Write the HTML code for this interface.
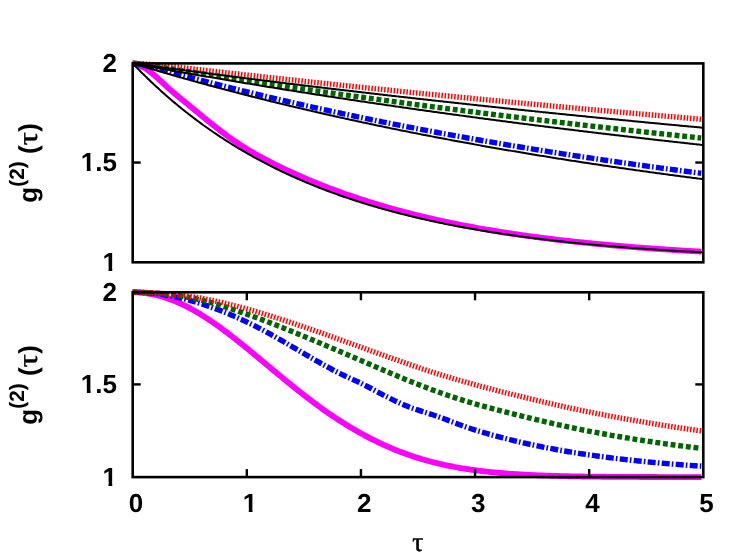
<!DOCTYPE html>
<html><head><meta charset="utf-8"><title>g2</title>
<style>
html,body{margin:0;padding:0;background:#fff;}
svg{display:block;will-change:transform;}
text{font-family:"Liberation Sans",sans-serif;font-weight:bold;font-size:26px;fill:#000;text-rendering:geometricPrecision;}
</style></head>
<body>
<svg width="747" height="555" viewBox="0 0 747 555">
<rect x="0" y="0" width="747" height="555" fill="#fff"/>
<defs><clipPath id="ct"><rect x="131.40" y="58.40" width="573.20" height="208.90"/></clipPath><clipPath id="cb"><rect x="131.40" y="287.30" width="573.20" height="194.80"/></clipPath></defs>
<g clip-path="url(#ct)">
<path d="M132.70,63.40 L134.12,63.70 L135.55,64.09 L136.97,64.55 L138.40,65.09 L139.82,65.69 L141.25,66.33 L142.67,67.01 L144.10,67.72 L145.52,68.52 L146.95,69.45 L148.37,70.48 L149.80,71.60 L151.22,72.76 L152.65,73.93 L154.07,75.10 L155.50,76.29 L156.92,77.53 L158.35,78.81 L159.77,80.12 L161.20,81.45 L162.62,82.79 L164.05,84.14 L165.47,85.48 L166.90,86.80 L168.32,88.11 L169.75,89.38 L171.17,90.63 L172.59,91.85 L174.02,93.06 L175.44,94.26 L176.87,95.44 L178.29,96.62 L179.72,97.79 L181.14,98.95 L182.57,100.12 L183.99,101.28 L185.42,102.44 L186.84,103.60 L188.27,104.77 L189.69,105.94 L191.12,107.12 L192.54,108.29 L193.97,109.47 L195.39,110.65 L196.82,111.83 L198.24,113.01 L199.67,114.18 L201.09,115.35 L202.52,116.52 L203.94,117.69 L205.37,118.85 L206.79,120.01 L208.22,121.16 L209.64,122.31 L211.06,123.45 L212.49,124.59 L213.91,125.72 L215.34,126.84 L216.76,127.95 L218.19,129.05 L219.61,130.15 L221.04,131.24 L222.46,132.31 L223.89,133.38 L225.31,134.44 L226.74,135.49 L228.16,136.52 L229.59,137.55 L231.01,138.57 L232.44,139.57 L233.86,140.56 L235.29,141.54 L236.71,142.51 L238.14,143.46 L239.56,144.41 L240.99,145.34 L242.41,146.25 L243.84,147.16 L245.26,148.05 L246.68,148.92 L248.11,149.79 L249.53,150.64 L250.96,151.48 L252.38,152.32 L253.81,153.14 L255.23,153.96 L256.66,154.76 L258.08,155.56 L259.51,156.35 L260.93,157.13 L262.36,157.90 L263.78,158.67 L265.21,159.43 L266.63,160.18 L268.06,160.92 L269.48,161.66 L270.91,162.39 L272.33,163.11 L273.76,163.82 L275.18,164.54 L276.61,165.24 L278.03,165.94 L279.46,166.63 L280.88,167.32 L282.31,168.00 L283.73,168.68 L285.15,169.35 L286.58,170.02 L288.00,170.68 L289.43,171.34 L290.85,171.99 L292.28,172.64 L293.70,173.29 L295.13,173.93 L296.55,174.57 L297.98,175.20 L299.40,175.84 L300.83,176.46 L302.25,177.09 L303.68,177.71 L305.10,178.32 L306.53,178.94 L307.95,179.55 L309.38,180.15 L310.80,180.75 L312.23,181.34 L313.65,181.93 L315.08,182.52 L316.50,183.10 L317.93,183.67 L319.35,184.25 L320.78,184.81 L322.20,185.38 L323.62,185.94 L325.05,186.50 L326.47,187.05 L327.90,187.60 L329.32,188.14 L330.75,188.68 L332.17,189.22 L333.60,189.75 L335.02,190.28 L336.45,190.80 L337.87,191.32 L339.30,191.84 L340.72,192.35 L342.15,192.86 L343.57,193.37 L345.00,193.87 L346.42,194.37 L347.85,194.87 L349.27,195.36 L350.70,195.85 L352.12,196.34 L353.55,196.82 L354.97,197.30 L356.40,197.78 L357.82,198.25 L359.25,198.72 L360.67,199.19 L362.09,199.65 L363.52,200.11 L364.94,200.57 L366.37,201.02 L367.79,201.47 L369.22,201.92 L370.64,202.37 L372.07,202.81 L373.49,203.25 L374.92,203.68 L376.34,204.11 L377.77,204.54 L379.19,204.97 L380.62,205.39 L382.04,205.81 L383.47,206.23 L384.89,206.65 L386.32,207.06 L387.74,207.46 L389.17,207.87 L390.59,208.27 L392.02,208.67 L393.44,209.07 L394.87,209.46 L396.29,209.85 L397.72,210.24 L399.14,210.63 L400.56,211.01 L401.99,211.39 L403.41,211.77 L404.84,212.14 L406.26,212.51 L407.69,212.88 L409.11,213.25 L410.54,213.61 L411.96,213.98 L413.39,214.33 L414.81,214.69 L416.24,215.04 L417.66,215.39 L419.09,215.74 L420.51,216.09 L421.94,216.43 L423.36,216.77 L424.79,217.11 L426.21,217.45 L427.64,217.78 L429.06,218.11 L430.49,218.44 L431.91,218.76 L433.34,219.09 L434.76,219.41 L436.18,219.73 L437.61,220.04 L439.03,220.36 L440.46,220.67 L441.88,220.98 L443.31,221.28 L444.73,221.59 L446.16,221.89 L447.58,222.19 L449.01,222.49 L450.43,222.78 L451.86,223.08 L453.28,223.37 L454.71,223.66 L456.13,223.94 L457.56,224.23 L458.98,224.51 L460.41,224.79 L461.83,225.07 L463.26,225.35 L464.68,225.62 L466.11,225.89 L467.53,226.16 L468.96,226.43 L470.38,226.70 L471.81,226.96 L473.23,227.22 L474.65,227.48 L476.08,227.74 L477.50,228.00 L478.93,228.25 L480.35,228.50 L481.78,228.75 L483.20,229.00 L484.63,229.25 L486.05,229.49 L487.48,229.74 L488.90,229.98 L490.33,230.22 L491.75,230.45 L493.18,230.69 L494.60,230.92 L496.03,231.16 L497.45,231.39 L498.88,231.62 L500.30,231.84 L501.73,232.07 L503.15,232.29 L504.58,232.52 L506.00,232.74 L507.43,232.96 L508.85,233.17 L510.28,233.39 L511.70,233.60 L513.12,233.82 L514.55,234.03 L515.97,234.24 L517.40,234.44 L518.82,234.65 L520.25,234.86 L521.67,235.06 L523.10,235.26 L524.52,235.46 L525.95,235.66 L527.37,235.86 L528.80,236.05 L530.22,236.25 L531.65,236.44 L533.07,236.63 L534.50,236.82 L535.92,237.01 L537.35,237.20 L538.77,237.38 L540.20,237.57 L541.62,237.75 L543.05,237.93 L544.47,238.11 L545.90,238.29 L547.32,238.47 L548.75,238.65 L550.17,238.82 L551.59,239.00 L553.02,239.17 L554.44,239.34 L555.87,239.51 L557.29,239.68 L558.72,239.85 L560.14,240.01 L561.57,240.18 L562.99,240.34 L564.42,240.51 L565.84,240.67 L567.27,240.83 L568.69,240.99 L570.12,241.14 L571.54,241.30 L572.97,241.46 L574.39,241.61 L575.82,241.76 L577.24,241.92 L578.67,242.07 L580.09,242.22 L581.52,242.37 L582.94,242.51 L584.37,242.66 L585.79,242.81 L587.22,242.95 L588.64,243.09 L590.06,243.24 L591.49,243.38 L592.91,243.52 L594.34,243.66 L595.76,243.79 L597.19,243.93 L598.61,244.07 L600.04,244.20 L601.46,244.34 L602.89,244.47 L604.31,244.60 L605.74,244.73 L607.16,244.86 L608.59,244.99 L610.01,245.12 L611.44,245.25 L612.86,245.37 L614.29,245.50 L615.71,245.62 L617.14,245.75 L618.56,245.87 L619.99,245.99 L621.41,246.11 L622.84,246.23 L624.26,246.35 L625.68,246.47 L627.11,246.59 L628.53,246.70 L629.96,246.82 L631.38,246.93 L632.81,247.05 L634.23,247.16 L635.66,247.27 L637.08,247.38 L638.51,247.49 L639.93,247.60 L641.36,247.71 L642.78,247.82 L644.21,247.93 L645.63,248.04 L647.06,248.14 L648.48,248.25 L649.91,248.35 L651.33,248.45 L652.76,248.56 L654.18,248.66 L655.61,248.76 L657.03,248.86 L658.46,248.96 L659.88,249.06 L661.31,249.16 L662.73,249.25 L664.15,249.35 L665.58,249.45 L667.00,249.54 L668.43,249.64 L669.85,249.73 L671.28,249.82 L672.70,249.91 L674.13,250.01 L675.55,250.10 L676.98,250.19 L678.40,250.28 L679.83,250.37 L681.25,250.46 L682.68,250.54 L684.10,250.63 L685.53,250.72 L686.95,250.80 L688.38,250.89 L689.80,250.97 L691.23,251.06 L692.65,251.14 L694.08,251.22 L695.50,251.30 L696.93,251.39 L698.35,251.47 L699.78,251.55 L701.20,251.63" fill="none" stroke="#ff00ff" stroke-width="5.8" stroke-linejoin="round"/>
<path d="M132.70,63.40 L134.12,63.44 L135.55,63.56 L136.97,63.73 L138.40,63.96 L139.82,64.21 L141.25,64.50 L142.67,64.81 L144.10,65.14 L145.52,65.48 L146.95,65.84 L148.37,66.20 L149.80,66.57 L151.22,66.94 L152.65,67.32 L154.07,67.71 L155.50,68.09 L156.92,68.48 L158.35,68.86 L159.77,69.25 L161.20,69.64 L162.62,70.03 L164.05,70.42 L165.47,70.80 L166.90,71.19 L168.32,71.58 L169.75,71.97 L171.17,72.35 L172.59,72.74 L174.02,73.12 L175.44,73.51 L176.87,73.89 L178.29,74.28 L179.72,74.66 L181.14,75.04 L182.57,75.42 L183.99,75.80 L185.42,76.18 L186.84,76.56 L188.27,76.94 L189.69,77.32 L191.12,77.69 L192.54,78.07 L193.97,78.44 L195.39,78.82 L196.82,79.19 L198.24,79.56 L199.67,79.93 L201.09,80.31 L202.52,80.68 L203.94,81.05 L205.37,81.42 L206.79,81.78 L208.22,82.15 L209.64,82.52 L211.06,82.88 L212.49,83.25 L213.91,83.61 L215.34,83.98 L216.76,84.34 L218.19,84.70 L219.61,85.06 L221.04,85.42 L222.46,85.78 L223.89,86.14 L225.31,86.50 L226.74,86.86 L228.16,87.22 L229.59,87.57 L231.01,87.93 L232.44,88.28 L233.86,88.64 L235.29,88.99 L236.71,89.34 L238.14,89.70 L239.56,90.05 L240.99,90.40 L242.41,90.75 L243.84,91.10 L245.26,91.45 L246.68,91.79 L248.11,92.14 L249.53,92.49 L250.96,92.83 L252.38,93.18 L253.81,93.52 L255.23,93.87 L256.66,94.21 L258.08,94.55 L259.51,94.89 L260.93,95.23 L262.36,95.57 L263.78,95.91 L265.21,96.25 L266.63,96.59 L268.06,96.93 L269.48,97.26 L270.91,97.60 L272.33,97.93 L273.76,98.27 L275.18,98.60 L276.61,98.94 L278.03,99.27 L279.46,99.60 L280.88,99.93 L282.31,100.26 L283.73,100.59 L285.15,100.92 L286.58,101.25 L288.00,101.58 L289.43,101.90 L290.85,102.23 L292.28,102.56 L293.70,102.88 L295.13,103.21 L296.55,103.53 L297.98,103.85 L299.40,104.18 L300.83,104.50 L302.25,104.82 L303.68,105.14 L305.10,105.46 L306.53,105.78 L307.95,106.10 L309.38,106.42 L310.80,106.73 L312.23,107.05 L313.65,107.37 L315.08,107.68 L316.50,108.00 L317.93,108.31 L319.35,108.62 L320.78,108.94 L322.20,109.25 L323.62,109.56 L325.05,109.87 L326.47,110.18 L327.90,110.49 L329.32,110.80 L330.75,111.11 L332.17,111.42 L333.60,111.72 L335.02,112.03 L336.45,112.33 L337.87,112.64 L339.30,112.94 L340.72,113.25 L342.15,113.55 L343.57,113.85 L345.00,114.16 L346.42,114.46 L347.85,114.76 L349.27,115.06 L350.70,115.36 L352.12,115.66 L353.55,115.96 L354.97,116.26 L356.40,116.55 L357.82,116.85 L359.25,117.15 L360.67,117.44 L362.09,117.74 L363.52,118.03 L364.94,118.32 L366.37,118.62 L367.79,118.91 L369.22,119.20 L370.64,119.49 L372.07,119.78 L373.49,120.07 L374.92,120.36 L376.34,120.65 L377.77,120.94 L379.19,121.23 L380.62,121.51 L382.04,121.80 L383.47,122.09 L384.89,122.37 L386.32,122.66 L387.74,122.94 L389.17,123.23 L390.59,123.51 L392.02,123.79 L393.44,124.07 L394.87,124.35 L396.29,124.63 L397.72,124.92 L399.14,125.19 L400.56,125.47 L401.99,125.75 L403.41,126.03 L404.84,126.31 L406.26,126.58 L407.69,126.86 L409.11,127.14 L410.54,127.41 L411.96,127.69 L413.39,127.96 L414.81,128.23 L416.24,128.51 L417.66,128.78 L419.09,129.05 L420.51,129.32 L421.94,129.59 L423.36,129.86 L424.79,130.13 L426.21,130.40 L427.64,130.67 L429.06,130.94 L430.49,131.20 L431.91,131.47 L433.34,131.74 L434.76,132.00 L436.18,132.27 L437.61,132.53 L439.03,132.80 L440.46,133.06 L441.88,133.32 L443.31,133.59 L444.73,133.85 L446.16,134.11 L447.58,134.37 L449.01,134.63 L450.43,134.89 L451.86,135.15 L453.28,135.41 L454.71,135.67 L456.13,135.93 L457.56,136.18 L458.98,136.44 L460.41,136.70 L461.83,136.95 L463.26,137.21 L464.68,137.46 L466.11,137.72 L467.53,137.97 L468.96,138.22 L470.38,138.47 L471.81,138.73 L473.23,138.98 L474.65,139.23 L476.08,139.48 L477.50,139.73 L478.93,139.98 L480.35,140.23 L481.78,140.48 L483.20,140.72 L484.63,140.97 L486.05,141.22 L487.48,141.47 L488.90,141.71 L490.33,141.96 L491.75,142.20 L493.18,142.45 L494.60,142.69 L496.03,142.93 L497.45,143.18 L498.88,143.42 L500.30,143.66 L501.73,143.90 L503.15,144.14 L504.58,144.38 L506.00,144.62 L507.43,144.86 L508.85,145.10 L510.28,145.34 L511.70,145.58 L513.12,145.82 L514.55,146.05 L515.97,146.29 L517.40,146.53 L518.82,146.76 L520.25,147.00 L521.67,147.23 L523.10,147.47 L524.52,147.70 L525.95,147.93 L527.37,148.17 L528.80,148.40 L530.22,148.63 L531.65,148.86 L533.07,149.09 L534.50,149.32 L535.92,149.55 L537.35,149.78 L538.77,150.01 L540.20,150.24 L541.62,150.47 L543.05,150.70 L544.47,150.92 L545.90,151.15 L547.32,151.38 L548.75,151.60 L550.17,151.83 L551.59,152.05 L553.02,152.28 L554.44,152.50 L555.87,152.72 L557.29,152.95 L558.72,153.17 L560.14,153.39 L561.57,153.61 L562.99,153.84 L564.42,154.06 L565.84,154.28 L567.27,154.50 L568.69,154.72 L570.12,154.93 L571.54,155.15 L572.97,155.37 L574.39,155.59 L575.82,155.81 L577.24,156.02 L578.67,156.24 L580.09,156.45 L581.52,156.67 L582.94,156.89 L584.37,157.10 L585.79,157.31 L587.22,157.53 L588.64,157.74 L590.06,157.95 L591.49,158.17 L592.91,158.38 L594.34,158.59 L595.76,158.80 L597.19,159.01 L598.61,159.22 L600.04,159.43 L601.46,159.64 L602.89,159.85 L604.31,160.06 L605.74,160.27 L607.16,160.47 L608.59,160.68 L610.01,160.89 L611.44,161.09 L612.86,161.30 L614.29,161.51 L615.71,161.71 L617.14,161.92 L618.56,162.12 L619.99,162.32 L621.41,162.53 L622.84,162.73 L624.26,162.93 L625.68,163.14 L627.11,163.34 L628.53,163.54 L629.96,163.74 L631.38,163.94 L632.81,164.14 L634.23,164.34 L635.66,164.54 L637.08,164.74 L638.51,164.94 L639.93,165.14 L641.36,165.33 L642.78,165.53 L644.21,165.73 L645.63,165.92 L647.06,166.12 L648.48,166.32 L649.91,166.51 L651.33,166.71 L652.76,166.90 L654.18,167.10 L655.61,167.29 L657.03,167.48 L658.46,167.68 L659.88,167.87 L661.31,168.06 L662.73,168.25 L664.15,168.44 L665.58,168.64 L667.00,168.83 L668.43,169.02 L669.85,169.21 L671.28,169.40 L672.70,169.58 L674.13,169.77 L675.55,169.96 L676.98,170.15 L678.40,170.34 L679.83,170.52 L681.25,170.71 L682.68,170.90 L684.10,171.08 L685.53,171.27 L686.95,171.45 L688.38,171.64 L689.80,171.82 L691.23,172.01 L692.65,172.19 L694.08,172.38 L695.50,172.56 L696.93,172.74 L698.35,172.92 L699.78,173.11 L701.20,173.29" fill="none" stroke="#0000ff" stroke-width="5.4" stroke-dasharray="8.0,2.1,1.6,2.35" stroke-linejoin="round"/>
<path d="M132.70,63.40 L134.12,63.43 L135.55,63.50 L136.97,63.61 L138.40,63.75 L139.82,63.91 L141.25,64.08 L142.67,64.27 L144.10,64.47 L145.52,64.68 L146.95,64.89 L148.37,65.11 L149.80,65.33 L151.22,65.55 L152.65,65.78 L154.07,66.01 L155.50,66.24 L156.92,66.47 L158.35,66.70 L159.77,66.93 L161.20,67.16 L162.62,67.39 L164.05,67.62 L165.47,67.85 L166.90,68.08 L168.32,68.31 L169.75,68.54 L171.17,68.77 L172.59,69.00 L174.02,69.23 L175.44,69.46 L176.87,69.69 L178.29,69.92 L179.72,70.15 L181.14,70.37 L182.57,70.60 L183.99,70.83 L185.42,71.06 L186.84,71.28 L188.27,71.51 L189.69,71.74 L191.12,71.97 L192.54,72.19 L193.97,72.42 L195.39,72.64 L196.82,72.87 L198.24,73.09 L199.67,73.32 L201.09,73.54 L202.52,73.77 L203.94,73.99 L205.37,74.22 L206.79,74.44 L208.22,74.66 L209.64,74.89 L211.06,75.11 L212.49,75.33 L213.91,75.55 L215.34,75.78 L216.76,76.00 L218.19,76.22 L219.61,76.44 L221.04,76.66 L222.46,76.88 L223.89,77.10 L225.31,77.32 L226.74,77.54 L228.16,77.76 L229.59,77.98 L231.01,78.20 L232.44,78.42 L233.86,78.64 L235.29,78.86 L236.71,79.08 L238.14,79.29 L239.56,79.51 L240.99,79.73 L242.41,79.95 L243.84,80.16 L245.26,80.38 L246.68,80.60 L248.11,80.81 L249.53,81.03 L250.96,81.24 L252.38,81.46 L253.81,81.67 L255.23,81.89 L256.66,82.10 L258.08,82.32 L259.51,82.53 L260.93,82.75 L262.36,82.96 L263.78,83.17 L265.21,83.38 L266.63,83.60 L268.06,83.81 L269.48,84.02 L270.91,84.23 L272.33,84.45 L273.76,84.66 L275.18,84.87 L276.61,85.08 L278.03,85.29 L279.46,85.50 L280.88,85.71 L282.31,85.92 L283.73,86.13 L285.15,86.34 L286.58,86.55 L288.00,86.76 L289.43,86.97 L290.85,87.18 L292.28,87.38 L293.70,87.59 L295.13,87.80 L296.55,88.01 L297.98,88.21 L299.40,88.42 L300.83,88.63 L302.25,88.83 L303.68,89.04 L305.10,89.25 L306.53,89.45 L307.95,89.66 L309.38,89.86 L310.80,90.07 L312.23,90.27 L313.65,90.48 L315.08,90.68 L316.50,90.89 L317.93,91.09 L319.35,91.29 L320.78,91.50 L322.20,91.70 L323.62,91.90 L325.05,92.11 L326.47,92.31 L327.90,92.51 L329.32,92.71 L330.75,92.91 L332.17,93.12 L333.60,93.32 L335.02,93.52 L336.45,93.72 L337.87,93.92 L339.30,94.12 L340.72,94.32 L342.15,94.52 L343.57,94.72 L345.00,94.92 L346.42,95.12 L347.85,95.32 L349.27,95.51 L350.70,95.71 L352.12,95.91 L353.55,96.11 L354.97,96.31 L356.40,96.50 L357.82,96.70 L359.25,96.90 L360.67,97.09 L362.09,97.29 L363.52,97.49 L364.94,97.68 L366.37,97.88 L367.79,98.07 L369.22,98.27 L370.64,98.46 L372.07,98.66 L373.49,98.85 L374.92,99.05 L376.34,99.24 L377.77,99.44 L379.19,99.63 L380.62,99.82 L382.04,100.02 L383.47,100.21 L384.89,100.40 L386.32,100.59 L387.74,100.79 L389.17,100.98 L390.59,101.17 L392.02,101.36 L393.44,101.55 L394.87,101.75 L396.29,101.94 L397.72,102.13 L399.14,102.32 L400.56,102.51 L401.99,102.70 L403.41,102.89 L404.84,103.08 L406.26,103.27 L407.69,103.46 L409.11,103.64 L410.54,103.83 L411.96,104.02 L413.39,104.21 L414.81,104.40 L416.24,104.59 L417.66,104.77 L419.09,104.96 L420.51,105.15 L421.94,105.33 L423.36,105.52 L424.79,105.71 L426.21,105.89 L427.64,106.08 L429.06,106.26 L430.49,106.45 L431.91,106.64 L433.34,106.82 L434.76,107.01 L436.18,107.19 L437.61,107.37 L439.03,107.56 L440.46,107.74 L441.88,107.93 L443.31,108.11 L444.73,108.29 L446.16,108.48 L447.58,108.66 L449.01,108.84 L450.43,109.03 L451.86,109.21 L453.28,109.39 L454.71,109.57 L456.13,109.75 L457.56,109.93 L458.98,110.12 L460.41,110.30 L461.83,110.48 L463.26,110.66 L464.68,110.84 L466.11,111.02 L467.53,111.20 L468.96,111.38 L470.38,111.56 L471.81,111.74 L473.23,111.92 L474.65,112.09 L476.08,112.27 L477.50,112.45 L478.93,112.63 L480.35,112.81 L481.78,112.99 L483.20,113.16 L484.63,113.34 L486.05,113.52 L487.48,113.69 L488.90,113.87 L490.33,114.05 L491.75,114.22 L493.18,114.40 L494.60,114.58 L496.03,114.75 L497.45,114.93 L498.88,115.10 L500.30,115.28 L501.73,115.45 L503.15,115.63 L504.58,115.80 L506.00,115.98 L507.43,116.15 L508.85,116.32 L510.28,116.50 L511.70,116.67 L513.12,116.84 L514.55,117.02 L515.97,117.19 L517.40,117.36 L518.82,117.53 L520.25,117.71 L521.67,117.88 L523.10,118.05 L524.52,118.22 L525.95,118.39 L527.37,118.56 L528.80,118.73 L530.22,118.91 L531.65,119.08 L533.07,119.25 L534.50,119.42 L535.92,119.59 L537.35,119.76 L538.77,119.93 L540.20,120.09 L541.62,120.26 L543.05,120.43 L544.47,120.60 L545.90,120.77 L547.32,120.94 L548.75,121.11 L550.17,121.27 L551.59,121.44 L553.02,121.61 L554.44,121.78 L555.87,121.94 L557.29,122.11 L558.72,122.28 L560.14,122.44 L561.57,122.61 L562.99,122.78 L564.42,122.94 L565.84,123.11 L567.27,123.27 L568.69,123.44 L570.12,123.60 L571.54,123.77 L572.97,123.93 L574.39,124.10 L575.82,124.26 L577.24,124.43 L578.67,124.59 L580.09,124.75 L581.52,124.92 L582.94,125.08 L584.37,125.24 L585.79,125.41 L587.22,125.57 L588.64,125.73 L590.06,125.89 L591.49,126.06 L592.91,126.22 L594.34,126.38 L595.76,126.54 L597.19,126.70 L598.61,126.87 L600.04,127.03 L601.46,127.19 L602.89,127.35 L604.31,127.51 L605.74,127.67 L607.16,127.83 L608.59,127.99 L610.01,128.15 L611.44,128.31 L612.86,128.47 L614.29,128.63 L615.71,128.79 L617.14,128.94 L618.56,129.10 L619.99,129.26 L621.41,129.42 L622.84,129.58 L624.26,129.74 L625.68,129.89 L627.11,130.05 L628.53,130.21 L629.96,130.36 L631.38,130.52 L632.81,130.68 L634.23,130.83 L635.66,130.99 L637.08,131.15 L638.51,131.30 L639.93,131.46 L641.36,131.61 L642.78,131.77 L644.21,131.93 L645.63,132.08 L647.06,132.23 L648.48,132.39 L649.91,132.54 L651.33,132.70 L652.76,132.85 L654.18,133.01 L655.61,133.16 L657.03,133.31 L658.46,133.47 L659.88,133.62 L661.31,133.77 L662.73,133.93 L664.15,134.08 L665.58,134.23 L667.00,134.38 L668.43,134.54 L669.85,134.69 L671.28,134.84 L672.70,134.99 L674.13,135.14 L675.55,135.29 L676.98,135.44 L678.40,135.60 L679.83,135.75 L681.25,135.90 L682.68,136.05 L684.10,136.20 L685.53,136.35 L686.95,136.50 L688.38,136.65 L689.80,136.80 L691.23,136.94 L692.65,137.09 L694.08,137.24 L695.50,137.39 L696.93,137.54 L698.35,137.69 L699.78,137.84 L701.20,137.98" fill="none" stroke="#006400" stroke-width="5.4" stroke-dasharray="4.9,2.8" stroke-linejoin="round"/>
<path d="M132.70,63.40 L134.12,63.41 L135.55,63.44 L136.97,63.48 L138.40,63.53 L139.82,63.60 L141.25,63.68 L142.67,63.76 L144.10,63.86 L145.52,63.96 L146.95,64.07 L148.37,64.19 L149.80,64.31 L151.22,64.44 L152.65,64.57 L154.07,64.70 L155.50,64.84 L156.92,64.98 L158.35,65.13 L159.77,65.27 L161.20,65.42 L162.62,65.57 L164.05,65.72 L165.47,65.88 L166.90,66.03 L168.32,66.18 L169.75,66.34 L171.17,66.50 L172.59,66.66 L174.02,66.81 L175.44,66.97 L176.87,67.13 L178.29,67.29 L179.72,67.45 L181.14,67.61 L182.57,67.78 L183.99,67.94 L185.42,68.10 L186.84,68.26 L188.27,68.42 L189.69,68.58 L191.12,68.74 L192.54,68.91 L193.97,69.07 L195.39,69.23 L196.82,69.39 L198.24,69.55 L199.67,69.72 L201.09,69.88 L202.52,70.04 L203.94,70.20 L205.37,70.36 L206.79,70.52 L208.22,70.69 L209.64,70.85 L211.06,71.01 L212.49,71.17 L213.91,71.33 L215.34,71.49 L216.76,71.65 L218.19,71.81 L219.61,71.97 L221.04,72.13 L222.46,72.29 L223.89,72.45 L225.31,72.61 L226.74,72.77 L228.16,72.93 L229.59,73.09 L231.01,73.25 L232.44,73.41 L233.86,73.57 L235.29,73.73 L236.71,73.89 L238.14,74.05 L239.56,74.21 L240.99,74.37 L242.41,74.52 L243.84,74.68 L245.26,74.84 L246.68,75.00 L248.11,75.16 L249.53,75.31 L250.96,75.47 L252.38,75.63 L253.81,75.79 L255.23,75.94 L256.66,76.10 L258.08,76.26 L259.51,76.42 L260.93,76.57 L262.36,76.73 L263.78,76.89 L265.21,77.04 L266.63,77.20 L268.06,77.36 L269.48,77.51 L270.91,77.67 L272.33,77.82 L273.76,77.98 L275.18,78.13 L276.61,78.29 L278.03,78.44 L279.46,78.60 L280.88,78.75 L282.31,78.91 L283.73,79.06 L285.15,79.22 L286.58,79.37 L288.00,79.53 L289.43,79.68 L290.85,79.84 L292.28,79.99 L293.70,80.14 L295.13,80.30 L296.55,80.45 L297.98,80.60 L299.40,80.76 L300.83,80.91 L302.25,81.06 L303.68,81.22 L305.10,81.37 L306.53,81.52 L307.95,81.67 L309.38,81.83 L310.80,81.98 L312.23,82.13 L313.65,82.28 L315.08,82.44 L316.50,82.59 L317.93,82.74 L319.35,82.89 L320.78,83.04 L322.20,83.19 L323.62,83.34 L325.05,83.49 L326.47,83.65 L327.90,83.80 L329.32,83.95 L330.75,84.10 L332.17,84.25 L333.60,84.40 L335.02,84.55 L336.45,84.70 L337.87,84.85 L339.30,85.00 L340.72,85.15 L342.15,85.30 L343.57,85.45 L345.00,85.59 L346.42,85.74 L347.85,85.89 L349.27,86.04 L350.70,86.19 L352.12,86.34 L353.55,86.49 L354.97,86.64 L356.40,86.78 L357.82,86.93 L359.25,87.08 L360.67,87.23 L362.09,87.38 L363.52,87.52 L364.94,87.67 L366.37,87.82 L367.79,87.97 L369.22,88.11 L370.64,88.26 L372.07,88.41 L373.49,88.55 L374.92,88.70 L376.34,88.85 L377.77,88.99 L379.19,89.14 L380.62,89.28 L382.04,89.43 L383.47,89.58 L384.89,89.72 L386.32,89.87 L387.74,90.01 L389.17,90.16 L390.59,90.30 L392.02,90.45 L393.44,90.59 L394.87,90.74 L396.29,90.88 L397.72,91.03 L399.14,91.17 L400.56,91.32 L401.99,91.46 L403.41,91.61 L404.84,91.75 L406.26,91.89 L407.69,92.04 L409.11,92.18 L410.54,92.32 L411.96,92.47 L413.39,92.61 L414.81,92.75 L416.24,92.90 L417.66,93.04 L419.09,93.18 L420.51,93.33 L421.94,93.47 L423.36,93.61 L424.79,93.75 L426.21,93.89 L427.64,94.04 L429.06,94.18 L430.49,94.32 L431.91,94.46 L433.34,94.60 L434.76,94.75 L436.18,94.89 L437.61,95.03 L439.03,95.17 L440.46,95.31 L441.88,95.45 L443.31,95.59 L444.73,95.73 L446.16,95.87 L447.58,96.01 L449.01,96.15 L450.43,96.29 L451.86,96.43 L453.28,96.57 L454.71,96.71 L456.13,96.85 L457.56,96.99 L458.98,97.13 L460.41,97.27 L461.83,97.41 L463.26,97.55 L464.68,97.69 L466.11,97.83 L467.53,97.97 L468.96,98.11 L470.38,98.24 L471.81,98.38 L473.23,98.52 L474.65,98.66 L476.08,98.80 L477.50,98.93 L478.93,99.07 L480.35,99.21 L481.78,99.35 L483.20,99.49 L484.63,99.62 L486.05,99.76 L487.48,99.90 L488.90,100.03 L490.33,100.17 L491.75,100.31 L493.18,100.44 L494.60,100.58 L496.03,100.72 L497.45,100.85 L498.88,100.99 L500.30,101.13 L501.73,101.26 L503.15,101.40 L504.58,101.53 L506.00,101.67 L507.43,101.80 L508.85,101.94 L510.28,102.08 L511.70,102.21 L513.12,102.35 L514.55,102.48 L515.97,102.62 L517.40,102.75 L518.82,102.88 L520.25,103.02 L521.67,103.15 L523.10,103.29 L524.52,103.42 L525.95,103.56 L527.37,103.69 L528.80,103.82 L530.22,103.96 L531.65,104.09 L533.07,104.22 L534.50,104.36 L535.92,104.49 L537.35,104.62 L538.77,104.76 L540.20,104.89 L541.62,105.02 L543.05,105.16 L544.47,105.29 L545.90,105.42 L547.32,105.55 L548.75,105.69 L550.17,105.82 L551.59,105.95 L553.02,106.08 L554.44,106.21 L555.87,106.34 L557.29,106.48 L558.72,106.61 L560.14,106.74 L561.57,106.87 L562.99,107.00 L564.42,107.13 L565.84,107.26 L567.27,107.39 L568.69,107.52 L570.12,107.66 L571.54,107.79 L572.97,107.92 L574.39,108.05 L575.82,108.18 L577.24,108.31 L578.67,108.44 L580.09,108.57 L581.52,108.70 L582.94,108.83 L584.37,108.96 L585.79,109.08 L587.22,109.21 L588.64,109.34 L590.06,109.47 L591.49,109.60 L592.91,109.73 L594.34,109.86 L595.76,109.99 L597.19,110.12 L598.61,110.24 L600.04,110.37 L601.46,110.50 L602.89,110.63 L604.31,110.76 L605.74,110.88 L607.16,111.01 L608.59,111.14 L610.01,111.27 L611.44,111.39 L612.86,111.52 L614.29,111.65 L615.71,111.78 L617.14,111.90 L618.56,112.03 L619.99,112.16 L621.41,112.28 L622.84,112.41 L624.26,112.54 L625.68,112.66 L627.11,112.79 L628.53,112.92 L629.96,113.04 L631.38,113.17 L632.81,113.29 L634.23,113.42 L635.66,113.54 L637.08,113.67 L638.51,113.80 L639.93,113.92 L641.36,114.05 L642.78,114.17 L644.21,114.30 L645.63,114.42 L647.06,114.55 L648.48,114.67 L649.91,114.79 L651.33,114.92 L652.76,115.04 L654.18,115.17 L655.61,115.29 L657.03,115.42 L658.46,115.54 L659.88,115.66 L661.31,115.79 L662.73,115.91 L664.15,116.03 L665.58,116.16 L667.00,116.28 L668.43,116.40 L669.85,116.53 L671.28,116.65 L672.70,116.77 L674.13,116.90 L675.55,117.02 L676.98,117.14 L678.40,117.26 L679.83,117.39 L681.25,117.51 L682.68,117.63 L684.10,117.75 L685.53,117.87 L686.95,118.00 L688.38,118.12 L689.80,118.24 L691.23,118.36 L692.65,118.48 L694.08,118.60 L695.50,118.72 L696.93,118.85 L698.35,118.97 L699.78,119.09 L701.20,119.21" fill="none" stroke="#ff0000" stroke-width="5.4" stroke-dasharray="1.5,1.7" stroke-linejoin="round"/>
<path d="M132.70,63.40 L134.13,63.59 L135.56,63.79 L136.99,63.98 L138.42,64.18 L139.85,64.37 L141.28,64.57 L142.71,64.76 L144.14,64.95 L145.57,65.15 L147.00,65.34 L148.43,65.53 L149.86,65.73 L151.29,65.92 L152.72,66.11 L154.15,66.30 L155.58,66.49 L157.01,66.69 L158.44,66.88 L159.87,67.07 L161.30,67.26 L162.73,67.45 L164.16,67.64 L165.59,67.83 L167.02,68.02 L168.45,68.21 L169.88,68.40 L171.31,68.59 L172.74,68.78 L174.17,68.97 L175.60,69.16 L177.03,69.35 L178.46,69.54 L179.89,69.73 L181.32,69.92 L182.75,70.11 L184.18,70.29 L185.61,70.48 L187.04,70.67 L188.47,70.86 L189.90,71.05 L191.33,71.23 L192.76,71.42 L194.19,71.61 L195.62,71.79 L197.05,71.98 L198.48,72.17 L199.91,72.35 L201.34,72.54 L202.77,72.73 L204.20,72.91 L205.63,73.10 L207.06,73.28 L208.49,73.47 L209.92,73.65 L211.35,73.84 L212.78,74.02 L214.21,74.21 L215.64,74.39 L217.07,74.57 L218.50,74.76 L219.93,74.94 L221.36,75.12 L222.79,75.31 L224.22,75.49 L225.65,75.67 L227.08,75.86 L228.52,76.04 L229.95,76.22 L231.38,76.40 L232.81,76.59 L234.24,76.77 L235.67,76.95 L237.10,77.13 L238.53,77.31 L239.96,77.49 L241.39,77.68 L242.82,77.86 L244.25,78.04 L245.68,78.22 L247.11,78.40 L248.54,78.58 L249.97,78.76 L251.40,78.94 L252.83,79.12 L254.26,79.30 L255.69,79.48 L257.12,79.65 L258.55,79.83 L259.98,80.01 L261.41,80.19 L262.84,80.37 L264.27,80.55 L265.70,80.73 L267.13,80.90 L268.56,81.08 L269.99,81.26 L271.42,81.44 L272.85,81.61 L274.28,81.79 L275.71,81.97 L277.14,82.14 L278.57,82.32 L280.00,82.50 L281.43,82.67 L282.86,82.85 L284.29,83.02 L285.72,83.20 L287.15,83.37 L288.58,83.55 L290.01,83.73 L291.44,83.90 L292.87,84.07 L294.30,84.25 L295.73,84.42 L297.16,84.60 L298.59,84.77 L300.02,84.95 L301.45,85.12 L302.88,85.29 L304.31,85.47 L305.74,85.64 L307.17,85.81 L308.60,85.99 L310.03,86.16 L311.46,86.33 L312.89,86.50 L314.32,86.68 L315.75,86.85 L317.18,87.02 L318.61,87.19 L320.04,87.36 L321.47,87.53 L322.90,87.71 L324.33,87.88 L325.76,88.05 L327.19,88.22 L328.62,88.39 L330.05,88.56 L331.48,88.73 L332.91,88.90 L334.34,89.07 L335.77,89.24 L337.20,89.41 L338.63,89.58 L340.06,89.75 L341.49,89.92 L342.92,90.08 L344.35,90.25 L345.78,90.42 L347.21,90.59 L348.64,90.76 L350.07,90.93 L351.50,91.09 L352.93,91.26 L354.36,91.43 L355.79,91.60 L357.22,91.76 L358.65,91.93 L360.08,92.10 L361.51,92.26 L362.94,92.43 L364.37,92.60 L365.80,92.76 L367.23,92.93 L368.66,93.10 L370.09,93.26 L371.52,93.43 L372.95,93.59 L374.38,93.76 L375.81,93.92 L377.24,94.09 L378.67,94.25 L380.10,94.42 L381.53,94.58 L382.96,94.75 L384.39,94.91 L385.82,95.07 L387.25,95.24 L388.68,95.40 L390.11,95.56 L391.54,95.73 L392.97,95.89 L394.40,96.05 L395.83,96.22 L397.26,96.38 L398.69,96.54 L400.12,96.70 L401.55,96.87 L402.98,97.03 L404.41,97.19 L405.84,97.35 L407.27,97.51 L408.70,97.67 L410.13,97.84 L411.56,98.00 L412.99,98.16 L414.42,98.32 L415.85,98.48 L417.28,98.64 L418.72,98.80 L420.15,98.96 L421.58,99.12 L423.01,99.28 L424.44,99.44 L425.87,99.60 L427.30,99.76 L428.73,99.92 L430.16,100.08 L431.59,100.24 L433.02,100.39 L434.45,100.55 L435.88,100.71 L437.31,100.87 L438.74,101.03 L440.17,101.19 L441.60,101.34 L443.03,101.50 L444.46,101.66 L445.89,101.82 L447.32,101.97 L448.75,102.13 L450.18,102.29 L451.61,102.44 L453.04,102.60 L454.47,102.76 L455.90,102.91 L457.33,103.07 L458.76,103.23 L460.19,103.38 L461.62,103.54 L463.05,103.69 L464.48,103.85 L465.91,104.00 L467.34,104.16 L468.77,104.31 L470.20,104.47 L471.63,104.62 L473.06,104.78 L474.49,104.93 L475.92,105.09 L477.35,105.24 L478.78,105.39 L480.21,105.55 L481.64,105.70 L483.07,105.85 L484.50,106.01 L485.93,106.16 L487.36,106.31 L488.79,106.47 L490.22,106.62 L491.65,106.77 L493.08,106.92 L494.51,107.08 L495.94,107.23 L497.37,107.38 L498.80,107.53 L500.23,107.68 L501.66,107.83 L503.09,107.99 L504.52,108.14 L505.95,108.29 L507.38,108.44 L508.81,108.59 L510.24,108.74 L511.67,108.89 L513.10,109.04 L514.53,109.19 L515.96,109.34 L517.39,109.49 L518.82,109.64 L520.25,109.79 L521.68,109.94 L523.11,110.09 L524.54,110.24 L525.97,110.39 L527.40,110.53 L528.83,110.68 L530.26,110.83 L531.69,110.98 L533.12,111.13 L534.55,111.28 L535.98,111.42 L537.41,111.57 L538.84,111.72 L540.27,111.87 L541.70,112.01 L543.13,112.16 L544.56,112.31 L545.99,112.46 L547.42,112.60 L548.85,112.75 L550.28,112.90 L551.71,113.04 L553.14,113.19 L554.57,113.33 L556.00,113.48 L557.43,113.63 L558.86,113.77 L560.29,113.92 L561.72,114.06 L563.15,114.21 L564.58,114.35 L566.01,114.50 L567.44,114.64 L568.87,114.79 L570.30,114.93 L571.73,115.08 L573.16,115.22 L574.59,115.36 L576.02,115.51 L577.45,115.65 L578.88,115.80 L580.31,115.94 L581.74,116.08 L583.17,116.23 L584.60,116.37 L586.03,116.51 L587.46,116.65 L588.89,116.80 L590.32,116.94 L591.75,117.08 L593.18,117.22 L594.61,117.37 L596.04,117.51 L597.47,117.65 L598.90,117.79 L600.33,117.93 L601.76,118.07 L603.19,118.22 L604.62,118.36 L606.05,118.50 L607.48,118.64 L608.92,118.78 L610.35,118.92 L611.78,119.06 L613.21,119.20 L614.64,119.34 L616.07,119.48 L617.50,119.62 L618.93,119.76 L620.36,119.90 L621.79,120.04 L623.22,120.18 L624.65,120.32 L626.08,120.46 L627.51,120.60 L628.94,120.73 L630.37,120.87 L631.80,121.01 L633.23,121.15 L634.66,121.29 L636.09,121.43 L637.52,121.56 L638.95,121.70 L640.38,121.84 L641.81,121.98 L643.24,122.12 L644.67,122.25 L646.10,122.39 L647.53,122.53 L648.96,122.66 L650.39,122.80 L651.82,122.94 L653.25,123.07 L654.68,123.21 L656.11,123.35 L657.54,123.48 L658.97,123.62 L660.40,123.75 L661.83,123.89 L663.26,124.03 L664.69,124.16 L666.12,124.30 L667.55,124.43 L668.98,124.57 L670.41,124.70 L671.84,124.84 L673.27,124.97 L674.70,125.11 L676.13,125.24 L677.56,125.37 L678.99,125.51 L680.42,125.64 L681.85,125.78 L683.28,125.91 L684.71,126.04 L686.14,126.18 L687.57,126.31 L689.00,126.44 L690.43,126.58 L691.86,126.71 L693.29,126.84 L694.72,126.97 L696.15,127.11 L697.58,127.24 L699.01,127.37 L700.44,127.50 L701.87,127.64 L703.30,127.77" fill="none" stroke="#000" stroke-width="2.0" stroke-linejoin="round"/>
<path d="M132.70,63.40 L134.13,63.66 L135.56,63.93 L136.99,64.19 L138.42,64.45 L139.85,64.71 L141.28,64.97 L142.71,65.24 L144.14,65.50 L145.57,65.76 L147.00,66.02 L148.43,66.28 L149.86,66.54 L151.29,66.80 L152.72,67.05 L154.15,67.31 L155.58,67.57 L157.01,67.83 L158.44,68.09 L159.87,68.34 L161.30,68.60 L162.73,68.86 L164.16,69.11 L165.59,69.37 L167.02,69.62 L168.45,69.88 L169.88,70.13 L171.31,70.39 L172.74,70.64 L174.17,70.90 L175.60,71.15 L177.03,71.40 L178.46,71.65 L179.89,71.91 L181.32,72.16 L182.75,72.41 L184.18,72.66 L185.61,72.91 L187.04,73.16 L188.47,73.41 L189.90,73.66 L191.33,73.91 L192.76,74.16 L194.19,74.41 L195.62,74.66 L197.05,74.91 L198.48,75.16 L199.91,75.40 L201.34,75.65 L202.77,75.90 L204.20,76.15 L205.63,76.39 L207.06,76.64 L208.49,76.88 L209.92,77.13 L211.35,77.37 L212.78,77.62 L214.21,77.86 L215.64,78.11 L217.07,78.35 L218.50,78.60 L219.93,78.84 L221.36,79.08 L222.79,79.32 L224.22,79.57 L225.65,79.81 L227.08,80.05 L228.52,80.29 L229.95,80.53 L231.38,80.77 L232.81,81.01 L234.24,81.25 L235.67,81.49 L237.10,81.73 L238.53,81.97 L239.96,82.21 L241.39,82.45 L242.82,82.69 L244.25,82.92 L245.68,83.16 L247.11,83.40 L248.54,83.63 L249.97,83.87 L251.40,84.11 L252.83,84.34 L254.26,84.58 L255.69,84.81 L257.12,85.05 L258.55,85.28 L259.98,85.52 L261.41,85.75 L262.84,85.99 L264.27,86.22 L265.70,86.45 L267.13,86.69 L268.56,86.92 L269.99,87.15 L271.42,87.38 L272.85,87.61 L274.28,87.84 L275.71,88.08 L277.14,88.31 L278.57,88.54 L280.00,88.77 L281.43,89.00 L282.86,89.23 L284.29,89.45 L285.72,89.68 L287.15,89.91 L288.58,90.14 L290.01,90.37 L291.44,90.60 L292.87,90.82 L294.30,91.05 L295.73,91.28 L297.16,91.50 L298.59,91.73 L300.02,91.95 L301.45,92.18 L302.88,92.41 L304.31,92.63 L305.74,92.85 L307.17,93.08 L308.60,93.30 L310.03,93.53 L311.46,93.75 L312.89,93.97 L314.32,94.20 L315.75,94.42 L317.18,94.64 L318.61,94.86 L320.04,95.08 L321.47,95.31 L322.90,95.53 L324.33,95.75 L325.76,95.97 L327.19,96.19 L328.62,96.41 L330.05,96.63 L331.48,96.85 L332.91,97.07 L334.34,97.28 L335.77,97.50 L337.20,97.72 L338.63,97.94 L340.06,98.16 L341.49,98.37 L342.92,98.59 L344.35,98.81 L345.78,99.02 L347.21,99.24 L348.64,99.46 L350.07,99.67 L351.50,99.89 L352.93,100.10 L354.36,100.32 L355.79,100.53 L357.22,100.74 L358.65,100.96 L360.08,101.17 L361.51,101.39 L362.94,101.60 L364.37,101.81 L365.80,102.02 L367.23,102.24 L368.66,102.45 L370.09,102.66 L371.52,102.87 L372.95,103.08 L374.38,103.29 L375.81,103.50 L377.24,103.71 L378.67,103.92 L380.10,104.13 L381.53,104.34 L382.96,104.55 L384.39,104.76 L385.82,104.97 L387.25,105.18 L388.68,105.38 L390.11,105.59 L391.54,105.80 L392.97,106.01 L394.40,106.21 L395.83,106.42 L397.26,106.63 L398.69,106.83 L400.12,107.04 L401.55,107.24 L402.98,107.45 L404.41,107.65 L405.84,107.86 L407.27,108.06 L408.70,108.27 L410.13,108.47 L411.56,108.68 L412.99,108.88 L414.42,109.08 L415.85,109.28 L417.28,109.49 L418.72,109.69 L420.15,109.89 L421.58,110.09 L423.01,110.29 L424.44,110.50 L425.87,110.70 L427.30,110.90 L428.73,111.10 L430.16,111.30 L431.59,111.50 L433.02,111.70 L434.45,111.90 L435.88,112.10 L437.31,112.29 L438.74,112.49 L440.17,112.69 L441.60,112.89 L443.03,113.09 L444.46,113.28 L445.89,113.48 L447.32,113.68 L448.75,113.88 L450.18,114.07 L451.61,114.27 L453.04,114.46 L454.47,114.66 L455.90,114.86 L457.33,115.05 L458.76,115.25 L460.19,115.44 L461.62,115.63 L463.05,115.83 L464.48,116.02 L465.91,116.22 L467.34,116.41 L468.77,116.60 L470.20,116.80 L471.63,116.99 L473.06,117.18 L474.49,117.37 L475.92,117.56 L477.35,117.76 L478.78,117.95 L480.21,118.14 L481.64,118.33 L483.07,118.52 L484.50,118.71 L485.93,118.90 L487.36,119.09 L488.79,119.28 L490.22,119.47 L491.65,119.66 L493.08,119.85 L494.51,120.04 L495.94,120.22 L497.37,120.41 L498.80,120.60 L500.23,120.79 L501.66,120.97 L503.09,121.16 L504.52,121.35 L505.95,121.54 L507.38,121.72 L508.81,121.91 L510.24,122.09 L511.67,122.28 L513.10,122.46 L514.53,122.65 L515.96,122.83 L517.39,123.02 L518.82,123.20 L520.25,123.39 L521.68,123.57 L523.11,123.75 L524.54,123.94 L525.97,124.12 L527.40,124.30 L528.83,124.49 L530.26,124.67 L531.69,124.85 L533.12,125.03 L534.55,125.22 L535.98,125.40 L537.41,125.58 L538.84,125.76 L540.27,125.94 L541.70,126.12 L543.13,126.30 L544.56,126.48 L545.99,126.66 L547.42,126.84 L548.85,127.02 L550.28,127.20 L551.71,127.38 L553.14,127.56 L554.57,127.73 L556.00,127.91 L557.43,128.09 L558.86,128.27 L560.29,128.44 L561.72,128.62 L563.15,128.80 L564.58,128.98 L566.01,129.15 L567.44,129.33 L568.87,129.50 L570.30,129.68 L571.73,129.86 L573.16,130.03 L574.59,130.21 L576.02,130.38 L577.45,130.56 L578.88,130.73 L580.31,130.90 L581.74,131.08 L583.17,131.25 L584.60,131.43 L586.03,131.60 L587.46,131.77 L588.89,131.94 L590.32,132.12 L591.75,132.29 L593.18,132.46 L594.61,132.63 L596.04,132.80 L597.47,132.98 L598.90,133.15 L600.33,133.32 L601.76,133.49 L603.19,133.66 L604.62,133.83 L606.05,134.00 L607.48,134.17 L608.92,134.34 L610.35,134.51 L611.78,134.68 L613.21,134.85 L614.64,135.02 L616.07,135.18 L617.50,135.35 L618.93,135.52 L620.36,135.69 L621.79,135.86 L623.22,136.02 L624.65,136.19 L626.08,136.36 L627.51,136.52 L628.94,136.69 L630.37,136.86 L631.80,137.02 L633.23,137.19 L634.66,137.35 L636.09,137.52 L637.52,137.68 L638.95,137.85 L640.38,138.01 L641.81,138.18 L643.24,138.34 L644.67,138.51 L646.10,138.67 L647.53,138.83 L648.96,139.00 L650.39,139.16 L651.82,139.32 L653.25,139.49 L654.68,139.65 L656.11,139.81 L657.54,139.97 L658.97,140.14 L660.40,140.30 L661.83,140.46 L663.26,140.62 L664.69,140.78 L666.12,140.94 L667.55,141.10 L668.98,141.26 L670.41,141.42 L671.84,141.58 L673.27,141.74 L674.70,141.90 L676.13,142.06 L677.56,142.22 L678.99,142.38 L680.42,142.54 L681.85,142.70 L683.28,142.86 L684.71,143.01 L686.14,143.17 L687.57,143.33 L689.00,143.49 L690.43,143.64 L691.86,143.80 L693.29,143.96 L694.72,144.12 L696.15,144.27 L697.58,144.43 L699.01,144.58 L700.44,144.74 L701.87,144.90 L703.30,145.05" fill="none" stroke="#000" stroke-width="2.0" stroke-linejoin="round"/>
<path d="M132.70,63.40 L134.13,63.83 L135.56,64.27 L136.99,64.70 L138.42,65.13 L139.85,65.56 L141.28,65.99 L142.71,66.42 L144.14,66.85 L145.57,67.28 L147.00,67.70 L148.43,68.13 L149.86,68.55 L151.29,68.97 L152.72,69.40 L154.15,69.82 L155.58,70.24 L157.01,70.66 L158.44,71.08 L159.87,71.49 L161.30,71.91 L162.73,72.33 L164.16,72.74 L165.59,73.16 L167.02,73.57 L168.45,73.98 L169.88,74.39 L171.31,74.80 L172.74,75.21 L174.17,75.62 L175.60,76.03 L177.03,76.44 L178.46,76.84 L179.89,77.25 L181.32,77.65 L182.75,78.05 L184.18,78.46 L185.61,78.86 L187.04,79.26 L188.47,79.66 L189.90,80.06 L191.33,80.46 L192.76,80.85 L194.19,81.25 L195.62,81.65 L197.05,82.04 L198.48,82.43 L199.91,82.83 L201.34,83.22 L202.77,83.61 L204.20,84.00 L205.63,84.39 L207.06,84.78 L208.49,85.17 L209.92,85.55 L211.35,85.94 L212.78,86.32 L214.21,86.71 L215.64,87.09 L217.07,87.47 L218.50,87.86 L219.93,88.24 L221.36,88.62 L222.79,89.00 L224.22,89.38 L225.65,89.75 L227.08,90.13 L228.52,90.51 L229.95,90.88 L231.38,91.26 L232.81,91.63 L234.24,92.00 L235.67,92.37 L237.10,92.75 L238.53,93.12 L239.96,93.49 L241.39,93.85 L242.82,94.22 L244.25,94.59 L245.68,94.96 L247.11,95.32 L248.54,95.69 L249.97,96.05 L251.40,96.41 L252.83,96.78 L254.26,97.14 L255.69,97.50 L257.12,97.86 L258.55,98.22 L259.98,98.58 L261.41,98.93 L262.84,99.29 L264.27,99.65 L265.70,100.00 L267.13,100.36 L268.56,100.71 L269.99,101.06 L271.42,101.41 L272.85,101.77 L274.28,102.12 L275.71,102.47 L277.14,102.82 L278.57,103.16 L280.00,103.51 L281.43,103.86 L282.86,104.20 L284.29,104.55 L285.72,104.89 L287.15,105.24 L288.58,105.58 L290.01,105.92 L291.44,106.27 L292.87,106.61 L294.30,106.95 L295.73,107.29 L297.16,107.62 L298.59,107.96 L300.02,108.30 L301.45,108.64 L302.88,108.97 L304.31,109.31 L305.74,109.64 L307.17,109.97 L308.60,110.31 L310.03,110.64 L311.46,110.97 L312.89,111.30 L314.32,111.63 L315.75,111.96 L317.18,112.29 L318.61,112.62 L320.04,112.94 L321.47,113.27 L322.90,113.59 L324.33,113.92 L325.76,114.24 L327.19,114.57 L328.62,114.89 L330.05,115.21 L331.48,115.53 L332.91,115.85 L334.34,116.17 L335.77,116.49 L337.20,116.81 L338.63,117.13 L340.06,117.45 L341.49,117.76 L342.92,118.08 L344.35,118.39 L345.78,118.71 L347.21,119.02 L348.64,119.33 L350.07,119.65 L351.50,119.96 L352.93,120.27 L354.36,120.58 L355.79,120.89 L357.22,121.20 L358.65,121.51 L360.08,121.81 L361.51,122.12 L362.94,122.43 L364.37,122.73 L365.80,123.04 L367.23,123.34 L368.66,123.64 L370.09,123.95 L371.52,124.25 L372.95,124.55 L374.38,124.85 L375.81,125.15 L377.24,125.45 L378.67,125.75 L380.10,126.05 L381.53,126.35 L382.96,126.64 L384.39,126.94 L385.82,127.24 L387.25,127.53 L388.68,127.82 L390.11,128.12 L391.54,128.41 L392.97,128.70 L394.40,129.00 L395.83,129.29 L397.26,129.58 L398.69,129.87 L400.12,130.16 L401.55,130.45 L402.98,130.73 L404.41,131.02 L405.84,131.31 L407.27,131.59 L408.70,131.88 L410.13,132.16 L411.56,132.45 L412.99,132.73 L414.42,133.02 L415.85,133.30 L417.28,133.58 L418.72,133.86 L420.15,134.14 L421.58,134.42 L423.01,134.70 L424.44,134.98 L425.87,135.26 L427.30,135.53 L428.73,135.81 L430.16,136.09 L431.59,136.36 L433.02,136.64 L434.45,136.91 L435.88,137.19 L437.31,137.46 L438.74,137.73 L440.17,138.00 L441.60,138.28 L443.03,138.55 L444.46,138.82 L445.89,139.09 L447.32,139.36 L448.75,139.63 L450.18,139.89 L451.61,140.16 L453.04,140.43 L454.47,140.69 L455.90,140.96 L457.33,141.22 L458.76,141.49 L460.19,141.75 L461.62,142.02 L463.05,142.28 L464.48,142.54 L465.91,142.80 L467.34,143.06 L468.77,143.32 L470.20,143.58 L471.63,143.84 L473.06,144.10 L474.49,144.36 L475.92,144.62 L477.35,144.87 L478.78,145.13 L480.21,145.39 L481.64,145.64 L483.07,145.90 L484.50,146.15 L485.93,146.41 L487.36,146.66 L488.79,146.91 L490.22,147.16 L491.65,147.41 L493.08,147.67 L494.51,147.92 L495.94,148.17 L497.37,148.41 L498.80,148.66 L500.23,148.91 L501.66,149.16 L503.09,149.41 L504.52,149.65 L505.95,149.90 L507.38,150.14 L508.81,150.39 L510.24,150.63 L511.67,150.88 L513.10,151.12 L514.53,151.36 L515.96,151.61 L517.39,151.85 L518.82,152.09 L520.25,152.33 L521.68,152.57 L523.11,152.81 L524.54,153.05 L525.97,153.29 L527.40,153.53 L528.83,153.76 L530.26,154.00 L531.69,154.24 L533.12,154.47 L534.55,154.71 L535.98,154.94 L537.41,155.18 L538.84,155.41 L540.27,155.65 L541.70,155.88 L543.13,156.11 L544.56,156.34 L545.99,156.58 L547.42,156.81 L548.85,157.04 L550.28,157.27 L551.71,157.50 L553.14,157.72 L554.57,157.95 L556.00,158.18 L557.43,158.41 L558.86,158.64 L560.29,158.86 L561.72,159.09 L563.15,159.31 L564.58,159.54 L566.01,159.76 L567.44,159.99 L568.87,160.21 L570.30,160.43 L571.73,160.66 L573.16,160.88 L574.59,161.10 L576.02,161.32 L577.45,161.54 L578.88,161.76 L580.31,161.98 L581.74,162.20 L583.17,162.42 L584.60,162.64 L586.03,162.85 L587.46,163.07 L588.89,163.29 L590.32,163.50 L591.75,163.72 L593.18,163.94 L594.61,164.15 L596.04,164.36 L597.47,164.58 L598.90,164.79 L600.33,165.01 L601.76,165.22 L603.19,165.43 L604.62,165.64 L606.05,165.85 L607.48,166.06 L608.92,166.27 L610.35,166.48 L611.78,166.69 L613.21,166.90 L614.64,167.11 L616.07,167.32 L617.50,167.53 L618.93,167.73 L620.36,167.94 L621.79,168.14 L623.22,168.35 L624.65,168.56 L626.08,168.76 L627.51,168.96 L628.94,169.17 L630.37,169.37 L631.80,169.58 L633.23,169.78 L634.66,169.98 L636.09,170.18 L637.52,170.38 L638.95,170.58 L640.38,170.78 L641.81,170.98 L643.24,171.18 L644.67,171.38 L646.10,171.58 L647.53,171.78 L648.96,171.98 L650.39,172.17 L651.82,172.37 L653.25,172.57 L654.68,172.76 L656.11,172.96 L657.54,173.15 L658.97,173.35 L660.40,173.54 L661.83,173.74 L663.26,173.93 L664.69,174.12 L666.12,174.32 L667.55,174.51 L668.98,174.70 L670.41,174.89 L671.84,175.08 L673.27,175.27 L674.70,175.46 L676.13,175.65 L677.56,175.84 L678.99,176.03 L680.42,176.22 L681.85,176.41 L683.28,176.59 L684.71,176.78 L686.14,176.97 L687.57,177.15 L689.00,177.34 L690.43,177.53 L691.86,177.71 L693.29,177.90 L694.72,178.08 L696.15,178.26 L697.58,178.45 L699.01,178.63 L700.44,178.81 L701.87,179.00 L703.30,179.18" fill="none" stroke="#000" stroke-width="2.0" stroke-linejoin="round"/>
<path d="M132.70,63.40 L134.13,64.89 L135.56,66.37 L136.99,67.84 L138.42,69.29 L139.85,70.74 L141.28,72.17 L142.71,73.60 L144.14,75.01 L145.57,76.41 L147.00,77.81 L148.43,79.19 L149.86,80.56 L151.29,81.92 L152.72,83.27 L154.15,84.61 L155.58,85.94 L157.01,87.27 L158.44,88.58 L159.87,89.88 L161.30,91.17 L162.73,92.45 L164.16,93.72 L165.59,94.99 L167.02,96.24 L168.45,97.48 L169.88,98.72 L171.31,99.94 L172.74,101.16 L174.17,102.37 L175.60,103.56 L177.03,104.75 L178.46,105.93 L179.89,107.11 L181.32,108.27 L182.75,109.42 L184.18,110.57 L185.61,111.70 L187.04,112.83 L188.47,113.95 L189.90,115.06 L191.33,116.16 L192.76,117.26 L194.19,118.35 L195.62,119.42 L197.05,120.49 L198.48,121.56 L199.91,122.61 L201.34,123.66 L202.77,124.70 L204.20,125.73 L205.63,126.75 L207.06,127.76 L208.49,128.77 L209.92,129.77 L211.35,130.77 L212.78,131.75 L214.21,132.73 L215.64,133.70 L217.07,134.66 L218.50,135.62 L219.93,136.57 L221.36,137.51 L222.79,138.44 L224.22,139.37 L225.65,140.29 L227.08,141.21 L228.52,142.11 L229.95,143.01 L231.38,143.91 L232.81,144.79 L234.24,145.67 L235.67,146.55 L237.10,147.42 L238.53,148.28 L239.96,149.13 L241.39,149.98 L242.82,150.82 L244.25,151.65 L245.68,152.48 L247.11,153.31 L248.54,154.12 L249.97,154.93 L251.40,155.74 L252.83,156.53 L254.26,157.33 L255.69,158.11 L257.12,158.89 L258.55,159.67 L259.98,160.44 L261.41,161.20 L262.84,161.96 L264.27,162.71 L265.70,163.45 L267.13,164.20 L268.56,164.93 L269.99,165.66 L271.42,166.38 L272.85,167.10 L274.28,167.81 L275.71,168.52 L277.14,169.23 L278.57,169.92 L280.00,170.61 L281.43,171.30 L282.86,171.98 L284.29,172.66 L285.72,173.33 L287.15,174.00 L288.58,174.66 L290.01,175.32 L291.44,175.97 L292.87,176.61 L294.30,177.26 L295.73,177.89 L297.16,178.52 L298.59,179.15 L300.02,179.77 L301.45,180.39 L302.88,181.01 L304.31,181.62 L305.74,182.22 L307.17,182.82 L308.60,183.42 L310.03,184.01 L311.46,184.59 L312.89,185.17 L314.32,185.75 L315.75,186.33 L317.18,186.89 L318.61,187.46 L320.04,188.02 L321.47,188.58 L322.90,189.13 L324.33,189.68 L325.76,190.22 L327.19,190.76 L328.62,191.30 L330.05,191.83 L331.48,192.36 L332.91,192.88 L334.34,193.40 L335.77,193.92 L337.20,194.43 L338.63,194.94 L340.06,195.44 L341.49,195.94 L342.92,196.44 L344.35,196.93 L345.78,197.42 L347.21,197.91 L348.64,198.39 L350.07,198.87 L351.50,199.34 L352.93,199.82 L354.36,200.28 L355.79,200.75 L357.22,201.21 L358.65,201.67 L360.08,202.12 L361.51,202.57 L362.94,203.02 L364.37,203.46 L365.80,203.90 L367.23,204.34 L368.66,204.78 L370.09,205.21 L371.52,205.63 L372.95,206.06 L374.38,206.48 L375.81,206.90 L377.24,207.31 L378.67,207.73 L380.10,208.13 L381.53,208.54 L382.96,208.94 L384.39,209.34 L385.82,209.74 L387.25,210.13 L388.68,210.52 L390.11,210.91 L391.54,211.30 L392.97,211.68 L394.40,212.06 L395.83,212.43 L397.26,212.81 L398.69,213.18 L400.12,213.55 L401.55,213.91 L402.98,214.27 L404.41,214.63 L405.84,214.99 L407.27,215.34 L408.70,215.70 L410.13,216.05 L411.56,216.39 L412.99,216.74 L414.42,217.08 L415.85,217.42 L417.28,217.75 L418.72,218.09 L420.15,218.42 L421.58,218.75 L423.01,219.07 L424.44,219.40 L425.87,219.72 L427.30,220.04 L428.73,220.35 L430.16,220.67 L431.59,220.98 L433.02,221.29 L434.45,221.60 L435.88,221.90 L437.31,222.20 L438.74,222.50 L440.17,222.80 L441.60,223.10 L443.03,223.39 L444.46,223.68 L445.89,223.97 L447.32,224.26 L448.75,224.54 L450.18,224.83 L451.61,225.11 L453.04,225.39 L454.47,225.66 L455.90,225.94 L457.33,226.21 L458.76,226.48 L460.19,226.75 L461.62,227.01 L463.05,227.28 L464.48,227.54 L465.91,227.80 L467.34,228.06 L468.77,228.32 L470.20,228.57 L471.63,228.82 L473.06,229.07 L474.49,229.32 L475.92,229.57 L477.35,229.82 L478.78,230.06 L480.21,230.30 L481.64,230.54 L483.07,230.78 L484.50,231.01 L485.93,231.25 L487.36,231.48 L488.79,231.71 L490.22,231.94 L491.65,232.17 L493.08,232.39 L494.51,232.62 L495.94,232.84 L497.37,233.06 L498.80,233.28 L500.23,233.50 L501.66,233.71 L503.09,233.93 L504.52,234.14 L505.95,234.35 L507.38,234.56 L508.81,234.77 L510.24,234.97 L511.67,235.18 L513.10,235.38 L514.53,235.58 L515.96,235.78 L517.39,235.98 L518.82,236.18 L520.25,236.37 L521.68,236.57 L523.11,236.76 L524.54,236.95 L525.97,237.14 L527.40,237.33 L528.83,237.52 L530.26,237.70 L531.69,237.89 L533.12,238.07 L534.55,238.25 L535.98,238.43 L537.41,238.61 L538.84,238.79 L540.27,238.97 L541.70,239.14 L543.13,239.31 L544.56,239.49 L545.99,239.66 L547.42,239.83 L548.85,239.99 L550.28,240.16 L551.71,240.33 L553.14,240.49 L554.57,240.66 L556.00,240.82 L557.43,240.98 L558.86,241.14 L560.29,241.30 L561.72,241.45 L563.15,241.61 L564.58,241.77 L566.01,241.92 L567.44,242.07 L568.87,242.22 L570.30,242.37 L571.73,242.52 L573.16,242.67 L574.59,242.82 L576.02,242.96 L577.45,243.11 L578.88,243.25 L580.31,243.40 L581.74,243.54 L583.17,243.68 L584.60,243.82 L586.03,243.96 L587.46,244.09 L588.89,244.23 L590.32,244.36 L591.75,244.50 L593.18,244.63 L594.61,244.76 L596.04,244.90 L597.47,245.03 L598.90,245.16 L600.33,245.28 L601.76,245.41 L603.19,245.54 L604.62,245.66 L606.05,245.79 L607.48,245.91 L608.92,246.03 L610.35,246.16 L611.78,246.28 L613.21,246.40 L614.64,246.52 L616.07,246.63 L617.50,246.75 L618.93,246.87 L620.36,246.98 L621.79,247.10 L623.22,247.21 L624.65,247.33 L626.08,247.44 L627.51,247.55 L628.94,247.66 L630.37,247.77 L631.80,247.88 L633.23,247.99 L634.66,248.09 L636.09,248.20 L637.52,248.31 L638.95,248.41 L640.38,248.51 L641.81,248.62 L643.24,248.72 L644.67,248.82 L646.10,248.92 L647.53,249.02 L648.96,249.12 L650.39,249.22 L651.82,249.32 L653.25,249.42 L654.68,249.51 L656.11,249.61 L657.54,249.70 L658.97,249.80 L660.40,249.89 L661.83,249.98 L663.26,250.08 L664.69,250.17 L666.12,250.26 L667.55,250.35 L668.98,250.44 L670.41,250.53 L671.84,250.62 L673.27,250.70 L674.70,250.79 L676.13,250.88 L677.56,250.96 L678.99,251.05 L680.42,251.13 L681.85,251.22 L683.28,251.30 L684.71,251.38 L686.14,251.46 L687.57,251.54 L689.00,251.62 L690.43,251.70 L691.86,251.78 L693.29,251.86 L694.72,251.94 L696.15,252.02 L697.58,252.10 L699.01,252.17 L700.44,252.25 L701.87,252.32 L703.30,252.40" fill="none" stroke="#000" stroke-width="2.0" stroke-linejoin="round"/>
</g>
<g clip-path="url(#cb)">
<path d="M132.70,292.30 L134.12,292.31 L135.55,292.34 L136.97,292.39 L138.40,292.47 L139.82,292.56 L141.25,292.67 L142.67,292.81 L144.10,292.96 L145.52,293.13 L146.95,293.33 L148.37,293.55 L149.80,293.78 L151.22,294.04 L152.65,294.31 L154.07,294.61 L155.50,294.93 L156.92,295.26 L158.35,295.62 L159.77,296.00 L161.20,296.39 L162.62,296.81 L164.05,297.24 L165.47,297.69 L166.90,298.17 L168.32,298.66 L169.75,299.17 L171.17,299.69 L172.59,300.24 L174.02,300.81 L175.44,301.39 L176.87,301.99 L178.29,302.61 L179.72,303.24 L181.14,303.90 L182.57,304.57 L183.99,305.25 L185.42,305.96 L186.84,306.68 L188.27,307.41 L189.69,308.16 L191.12,308.93 L192.54,309.71 L193.97,310.51 L195.39,311.33 L196.82,312.15 L198.24,313.00 L199.67,313.85 L201.09,314.72 L202.52,315.61 L203.94,316.50 L205.37,317.41 L206.79,318.34 L208.22,319.27 L209.64,320.22 L211.06,321.18 L212.49,322.15 L213.91,323.13 L215.34,324.13 L216.76,325.13 L218.19,326.15 L219.61,327.17 L221.04,328.21 L222.46,329.25 L223.89,330.31 L225.31,331.37 L226.74,332.44 L228.16,333.52 L229.59,334.61 L231.01,335.70 L232.44,336.81 L233.86,337.92 L235.29,339.03 L236.71,340.16 L238.14,341.29 L239.56,342.42 L240.99,343.56 L242.41,344.71 L243.84,345.86 L245.26,347.02 L246.68,348.18 L248.11,349.34 L249.53,350.51 L250.96,351.68 L252.38,352.85 L253.81,354.03 L255.23,355.21 L256.66,356.39 L258.08,357.57 L259.51,358.76 L260.93,359.95 L262.36,361.13 L263.78,362.32 L265.21,363.51 L266.63,364.70 L268.06,365.89 L269.48,367.08 L270.91,368.27 L272.33,369.46 L273.76,370.64 L275.18,371.83 L276.61,373.01 L278.03,374.19 L279.46,375.37 L280.88,376.55 L282.31,377.73 L283.73,378.90 L285.15,380.07 L286.58,381.24 L288.00,382.40 L289.43,383.56 L290.85,384.72 L292.28,385.87 L293.70,387.02 L295.13,388.16 L296.55,389.30 L297.98,390.43 L299.40,391.56 L300.83,392.69 L302.25,393.80 L303.68,394.92 L305.10,396.02 L306.53,397.13 L307.95,398.22 L309.38,399.31 L310.80,400.39 L312.23,401.47 L313.65,402.54 L315.08,403.60 L316.50,404.65 L317.93,405.70 L319.35,406.74 L320.78,407.77 L322.20,408.80 L323.62,409.81 L325.05,410.82 L326.47,411.82 L327.90,412.81 L329.32,413.80 L330.75,414.77 L332.17,415.74 L333.60,416.70 L335.02,417.65 L336.45,418.59 L337.87,419.52 L339.30,420.44 L340.72,421.36 L342.15,422.26 L343.57,423.16 L345.00,424.05 L346.42,424.93 L347.85,425.80 L349.27,426.67 L350.70,427.52 L352.12,428.37 L353.55,429.20 L354.97,430.03 L356.40,430.85 L357.82,431.66 L359.25,432.46 L360.67,433.25 L362.09,434.04 L363.52,434.81 L364.94,435.58 L366.37,436.34 L367.79,437.09 L369.22,437.83 L370.64,438.57 L372.07,439.29 L373.49,440.01 L374.92,440.72 L376.34,441.42 L377.77,442.11 L379.19,442.79 L380.62,443.46 L382.04,444.13 L383.47,444.78 L384.89,445.43 L386.32,446.06 L387.74,446.69 L389.17,447.31 L390.59,447.92 L392.02,448.53 L393.44,449.12 L394.87,449.71 L396.29,450.28 L397.72,450.85 L399.14,451.41 L400.56,451.96 L401.99,452.50 L403.41,453.03 L404.84,453.55 L406.26,454.07 L407.69,454.57 L409.11,455.07 L410.54,455.56 L411.96,456.04 L413.39,456.51 L414.81,456.98 L416.24,457.43 L417.66,457.88 L419.09,458.32 L420.51,458.75 L421.94,459.17 L423.36,459.59 L424.79,460.00 L426.21,460.40 L427.64,460.80 L429.06,461.19 L430.49,461.57 L431.91,461.94 L433.34,462.31 L434.76,462.66 L436.18,463.02 L437.61,463.36 L439.03,463.70 L440.46,464.03 L441.88,464.36 L443.31,464.68 L444.73,464.99 L446.16,465.30 L447.58,465.60 L449.01,465.89 L450.43,466.18 L451.86,466.46 L453.28,466.73 L454.71,467.00 L456.13,467.26 L457.56,467.52 L458.98,467.77 L460.41,468.02 L461.83,468.26 L463.26,468.50 L464.68,468.72 L466.11,468.95 L467.53,469.17 L468.96,469.38 L470.38,469.59 L471.81,469.80 L473.23,469.99 L474.65,470.19 L476.08,470.38 L477.50,470.56 L478.93,470.74 L480.35,470.92 L481.78,471.09 L483.20,471.26 L484.63,471.43 L486.05,471.59 L487.48,471.74 L488.90,471.89 L490.33,472.04 L491.75,472.19 L493.18,472.33 L494.60,472.47 L496.03,472.60 L497.45,472.73 L498.88,472.86 L500.30,472.99 L501.73,473.11 L503.15,473.23 L504.58,473.34 L506.00,473.45 L507.43,473.56 L508.85,473.67 L510.28,473.77 L511.70,473.87 L513.12,473.97 L514.55,474.07 L515.97,474.16 L517.40,474.25 L518.82,474.34 L520.25,474.43 L521.67,474.51 L523.10,474.59 L524.52,474.67 L525.95,474.74 L527.37,474.82 L528.80,474.89 L530.22,474.96 L531.65,475.03 L533.07,475.10 L534.50,475.16 L535.92,475.22 L537.35,475.28 L538.77,475.34 L540.20,475.40 L541.62,475.46 L543.05,475.51 L544.47,475.56 L545.90,475.61 L547.32,475.66 L548.75,475.71 L550.17,475.76 L551.59,475.80 L553.02,475.85 L554.44,475.89 L555.87,475.93 L557.29,475.97 L558.72,476.01 L560.14,476.05 L561.57,476.08 L562.99,476.12 L564.42,476.15 L565.84,476.18 L567.27,476.22 L568.69,476.25 L570.12,476.28 L571.54,476.31 L572.97,476.33 L574.39,476.36 L575.82,476.39 L577.24,476.41 L578.67,476.44 L580.09,476.46 L581.52,476.48 L582.94,476.51 L584.37,476.53 L585.79,476.55 L587.22,476.57 L588.64,476.59 L590.06,476.61 L591.49,476.62 L592.91,476.64 L594.34,476.66 L595.76,476.67 L597.19,476.69 L598.61,476.71 L600.04,476.72 L601.46,476.73 L602.89,476.75 L604.31,476.76 L605.74,476.77 L607.16,476.79 L608.59,476.80 L610.01,476.81 L611.44,476.82 L612.86,476.83 L614.29,476.84 L615.71,476.85 L617.14,476.86 L618.56,476.87 L619.99,476.88 L621.41,476.89 L622.84,476.90 L624.26,476.90 L625.68,476.91 L627.11,476.92 L628.53,476.93 L629.96,476.93 L631.38,476.94 L632.81,476.95 L634.23,476.95 L635.66,476.96 L637.08,476.96 L638.51,476.97 L639.93,476.98 L641.36,476.98 L642.78,476.99 L644.21,476.99 L645.63,476.99 L647.06,477.00 L648.48,477.00 L649.91,477.01 L651.33,477.01 L652.76,477.01 L654.18,477.02 L655.61,477.02 L657.03,477.02 L658.46,477.03 L659.88,477.03 L661.31,477.03 L662.73,477.04 L664.15,477.04 L665.58,477.04 L667.00,477.04 L668.43,477.05 L669.85,477.05 L671.28,477.05 L672.70,477.05 L674.13,477.06 L675.55,477.06 L676.98,477.06 L678.40,477.06 L679.83,477.06 L681.25,477.06 L682.68,477.07 L684.10,477.07 L685.53,477.07 L686.95,477.07 L688.38,477.07 L689.80,477.07 L691.23,477.07 L692.65,477.07 L694.08,477.08 L695.50,477.08 L696.93,477.08 L698.35,477.08 L699.78,477.08 L701.20,477.08" fill="none" stroke="#ff00ff" stroke-width="5.8" stroke-linejoin="round"/>
<path d="M132.70,292.30 L134.12,292.31 L135.55,292.32 L136.97,292.35 L138.40,292.38 L139.82,292.43 L141.25,292.49 L142.67,292.56 L144.10,292.64 L145.52,292.73 L146.95,292.82 L148.37,292.93 L149.80,293.05 L151.22,293.18 L152.65,293.32 L154.07,293.48 L155.50,293.64 L156.92,293.81 L158.35,293.99 L159.77,294.18 L161.20,294.38 L162.62,294.59 L164.05,294.81 L165.47,295.04 L166.90,295.28 L168.32,295.53 L169.75,295.79 L171.17,296.05 L172.59,296.33 L174.02,296.62 L175.44,296.92 L176.87,297.22 L178.29,297.54 L179.72,297.86 L181.14,298.20 L182.57,298.54 L183.99,298.89 L185.42,299.25 L186.84,299.62 L188.27,300.00 L189.69,300.38 L191.12,300.78 L192.54,301.18 L193.97,301.59 L195.39,302.01 L196.82,302.44 L198.24,302.87 L199.67,303.31 L201.09,303.76 L202.52,304.22 L203.94,304.69 L205.37,305.16 L206.79,305.64 L208.22,306.13 L209.64,306.62 L211.06,307.12 L212.49,307.63 L213.91,308.15 L215.34,308.67 L216.76,309.21 L218.19,309.74 L219.61,310.29 L221.04,310.84 L222.46,311.40 L223.89,311.97 L225.31,312.54 L226.74,313.12 L228.16,313.71 L229.59,314.30 L231.01,314.90 L232.44,315.51 L233.86,316.12 L235.29,316.74 L236.71,317.37 L238.14,318.00 L239.56,318.64 L240.99,319.29 L242.41,319.94 L243.84,320.60 L245.26,321.26 L246.68,321.94 L248.11,322.62 L249.53,323.30 L250.96,324.00 L252.38,324.70 L253.81,325.41 L255.23,326.13 L256.66,326.86 L258.08,327.59 L259.51,328.33 L260.93,329.08 L262.36,329.83 L263.78,330.59 L265.21,331.36 L266.63,332.13 L268.06,332.91 L269.48,333.69 L270.91,334.48 L272.33,335.27 L273.76,336.07 L275.18,336.87 L276.61,337.68 L278.03,338.49 L279.46,339.30 L280.88,340.12 L282.31,340.94 L283.73,341.76 L285.15,342.59 L286.58,343.42 L288.00,344.25 L289.43,345.08 L290.85,345.91 L292.28,346.75 L293.70,347.58 L295.13,348.42 L296.55,349.26 L297.98,350.09 L299.40,350.93 L300.83,351.77 L302.25,352.60 L303.68,353.44 L305.10,354.27 L306.53,355.10 L307.95,355.93 L309.38,356.76 L310.80,357.58 L312.23,358.41 L313.65,359.23 L315.08,360.04 L316.50,360.85 L317.93,361.66 L319.35,362.47 L320.78,363.27 L322.20,364.07 L323.62,364.86 L325.05,365.65 L326.47,366.43 L327.90,367.21 L329.32,367.98 L330.75,368.74 L332.17,369.50 L333.60,370.26 L335.02,371.00 L336.45,371.74 L337.87,372.48 L339.30,373.20 L340.72,373.90 L342.15,374.59 L343.57,375.27 L345.00,375.94 L346.42,376.60 L347.85,377.25 L349.27,377.90 L350.70,378.55 L352.12,379.19 L353.55,379.84 L354.97,380.49 L356.40,381.14 L357.82,381.81 L359.25,382.48 L360.67,383.17 L362.09,383.87 L363.52,384.58 L364.94,385.29 L366.37,386.02 L367.79,386.76 L369.22,387.50 L370.64,388.25 L372.07,389.00 L373.49,389.75 L374.92,390.51 L376.34,391.27 L377.77,392.03 L379.19,392.79 L380.62,393.54 L382.04,394.30 L383.47,395.05 L384.89,395.79 L386.32,396.53 L387.74,397.27 L389.17,397.99 L390.59,398.71 L392.02,399.42 L393.44,400.12 L394.87,400.81 L396.29,401.49 L397.72,402.15 L399.14,402.80 L400.56,403.44 L401.99,404.06 L403.41,404.66 L404.84,405.25 L406.26,405.83 L407.69,406.38 L409.11,406.92 L410.54,407.45 L411.96,407.96 L413.39,408.47 L414.81,408.96 L416.24,409.45 L417.66,409.92 L419.09,410.39 L420.51,410.86 L421.94,411.32 L423.36,411.78 L424.79,412.24 L426.21,412.70 L427.64,413.15 L429.06,413.61 L430.49,414.08 L431.91,414.54 L433.34,415.02 L434.76,415.49 L436.18,415.98 L437.61,416.47 L439.03,416.97 L440.46,417.49 L441.88,418.00 L443.31,418.53 L444.73,419.06 L446.16,419.59 L447.58,420.13 L449.01,420.67 L450.43,421.21 L451.86,421.75 L453.28,422.30 L454.71,422.84 L456.13,423.38 L457.56,423.91 L458.98,424.45 L460.41,424.98 L461.83,425.50 L463.26,426.02 L464.68,426.53 L466.11,427.04 L467.53,427.53 L468.96,428.02 L470.38,428.50 L471.81,428.97 L473.23,429.43 L474.65,429.87 L476.08,430.31 L477.50,430.75 L478.93,431.18 L480.35,431.60 L481.78,432.03 L483.20,432.45 L484.63,432.86 L486.05,433.27 L487.48,433.68 L488.90,434.09 L490.33,434.49 L491.75,434.89 L493.18,435.28 L494.60,435.67 L496.03,436.06 L497.45,436.44 L498.88,436.82 L500.30,437.20 L501.73,437.58 L503.15,437.95 L504.58,438.31 L506.00,438.68 L507.43,439.04 L508.85,439.39 L510.28,439.75 L511.70,440.10 L513.12,440.45 L514.55,440.79 L515.97,441.13 L517.40,441.47 L518.82,441.81 L520.25,442.14 L521.67,442.47 L523.10,442.79 L524.52,443.11 L525.95,443.43 L527.37,443.75 L528.80,444.06 L530.22,444.37 L531.65,444.68 L533.07,444.99 L534.50,445.29 L535.92,445.59 L537.35,445.88 L538.77,446.18 L540.20,446.47 L541.62,446.75 L543.05,447.04 L544.47,447.32 L545.90,447.60 L547.32,447.88 L548.75,448.15 L550.17,448.42 L551.59,448.69 L553.02,448.96 L554.44,449.22 L555.87,449.48 L557.29,449.74 L558.72,450.00 L560.14,450.25 L561.57,450.50 L562.99,450.75 L564.42,450.99 L565.84,451.24 L567.27,451.48 L568.69,451.72 L570.12,451.95 L571.54,452.19 L572.97,452.42 L574.39,452.65 L575.82,452.88 L577.24,453.10 L578.67,453.32 L580.09,453.55 L581.52,453.76 L582.94,453.98 L584.37,454.19 L585.79,454.40 L587.22,454.61 L588.64,454.82 L590.06,455.03 L591.49,455.23 L592.91,455.43 L594.34,455.63 L595.76,455.83 L597.19,456.03 L598.61,456.22 L600.04,456.41 L601.46,456.60 L602.89,456.79 L604.31,456.98 L605.74,457.16 L607.16,457.35 L608.59,457.53 L610.01,457.71 L611.44,457.89 L612.86,458.06 L614.29,458.24 L615.71,458.41 L617.14,458.58 L618.56,458.75 L619.99,458.92 L621.41,459.09 L622.84,459.25 L624.26,459.42 L625.68,459.58 L627.11,459.74 L628.53,459.90 L629.96,460.05 L631.38,460.21 L632.81,460.36 L634.23,460.52 L635.66,460.67 L637.08,460.82 L638.51,460.96 L639.93,461.11 L641.36,461.25 L642.78,461.40 L644.21,461.54 L645.63,461.68 L647.06,461.82 L648.48,461.96 L649.91,462.09 L651.33,462.23 L652.76,462.36 L654.18,462.49 L655.61,462.63 L657.03,462.76 L658.46,462.88 L659.88,463.01 L661.31,463.14 L662.73,463.26 L664.15,463.38 L665.58,463.50 L667.00,463.63 L668.43,463.74 L669.85,463.86 L671.28,463.98 L672.70,464.09 L674.13,464.21 L675.55,464.32 L676.98,464.43 L678.40,464.54 L679.83,464.65 L681.25,464.76 L682.68,464.87 L684.10,464.98 L685.53,465.08 L686.95,465.18 L688.38,465.29 L689.80,465.39 L691.23,465.49 L692.65,465.59 L694.08,465.69 L695.50,465.79 L696.93,465.88 L698.35,465.98 L699.78,466.07 L701.20,466.16" fill="none" stroke="#0000ff" stroke-width="5.4" stroke-dasharray="8.0,2.1,1.6,2.35" stroke-linejoin="round"/>
<path d="M132.70,292.30 L134.12,292.30 L135.55,292.31 L136.97,292.33 L138.40,292.35 L139.82,292.38 L141.25,292.41 L142.67,292.45 L144.10,292.50 L145.52,292.55 L146.95,292.61 L148.37,292.68 L149.80,292.76 L151.22,292.84 L152.65,292.92 L154.07,293.02 L155.50,293.12 L156.92,293.22 L158.35,293.34 L159.77,293.46 L161.20,293.58 L162.62,293.72 L164.05,293.86 L165.47,294.01 L166.90,294.16 L168.32,294.32 L169.75,294.49 L171.17,294.67 L172.59,294.85 L174.02,295.04 L175.44,295.23 L176.87,295.44 L178.29,295.65 L179.72,295.87 L181.14,296.09 L182.57,296.32 L183.99,296.56 L185.42,296.81 L186.84,297.06 L188.27,297.32 L189.69,297.59 L191.12,297.86 L192.54,298.15 L193.97,298.44 L195.39,298.74 L196.82,299.05 L198.24,299.37 L199.67,299.69 L201.09,300.03 L202.52,300.37 L203.94,300.72 L205.37,301.08 L206.79,301.45 L208.22,301.82 L209.64,302.20 L211.06,302.59 L212.49,302.99 L213.91,303.39 L215.34,303.81 L216.76,304.22 L218.19,304.65 L219.61,305.08 L221.04,305.52 L222.46,305.96 L223.89,306.41 L225.31,306.87 L226.74,307.33 L228.16,307.79 L229.59,308.26 L231.01,308.74 L232.44,309.21 L233.86,309.70 L235.29,310.18 L236.71,310.67 L238.14,311.16 L239.56,311.66 L240.99,312.15 L242.41,312.65 L243.84,313.15 L245.26,313.65 L246.68,314.15 L248.11,314.66 L249.53,315.16 L250.96,315.67 L252.38,316.18 L253.81,316.70 L255.23,317.22 L256.66,317.74 L258.08,318.27 L259.51,318.79 L260.93,319.32 L262.36,319.86 L263.78,320.39 L265.21,320.93 L266.63,321.47 L268.06,322.02 L269.48,322.56 L270.91,323.11 L272.33,323.66 L273.76,324.21 L275.18,324.77 L276.61,325.32 L278.03,325.88 L279.46,326.44 L280.88,327.01 L282.31,327.57 L283.73,328.14 L285.15,328.71 L286.58,329.28 L288.00,329.85 L289.43,330.42 L290.85,331.00 L292.28,331.57 L293.70,332.15 L295.13,332.73 L296.55,333.31 L297.98,333.90 L299.40,334.48 L300.83,335.07 L302.25,335.65 L303.68,336.24 L305.10,336.83 L306.53,337.42 L307.95,338.01 L309.38,338.60 L310.80,339.20 L312.23,339.79 L313.65,340.39 L315.08,340.98 L316.50,341.58 L317.93,342.18 L319.35,342.78 L320.78,343.38 L322.20,343.98 L323.62,344.58 L325.05,345.18 L326.47,345.78 L327.90,346.39 L329.32,346.99 L330.75,347.60 L332.17,348.20 L333.60,348.81 L335.02,349.41 L336.45,350.02 L337.87,350.63 L339.30,351.23 L340.72,351.84 L342.15,352.45 L343.57,353.06 L345.00,353.67 L346.42,354.28 L347.85,354.89 L349.27,355.50 L350.70,356.11 L352.12,356.72 L353.55,357.33 L354.97,357.94 L356.40,358.55 L357.82,359.16 L359.25,359.77 L360.67,360.38 L362.09,361.00 L363.52,361.61 L364.94,362.22 L366.37,362.83 L367.79,363.45 L369.22,364.06 L370.64,364.67 L372.07,365.28 L373.49,365.90 L374.92,366.51 L376.34,367.12 L377.77,367.73 L379.19,368.34 L380.62,368.95 L382.04,369.56 L383.47,370.17 L384.89,370.78 L386.32,371.38 L387.74,371.99 L389.17,372.59 L390.59,373.20 L392.02,373.80 L393.44,374.40 L394.87,375.00 L396.29,375.59 L397.72,376.19 L399.14,376.78 L400.56,377.37 L401.99,377.96 L403.41,378.54 L404.84,379.13 L406.26,379.71 L407.69,380.29 L409.11,380.87 L410.54,381.44 L411.96,382.01 L413.39,382.58 L414.81,383.15 L416.24,383.71 L417.66,384.27 L419.09,384.83 L420.51,385.38 L421.94,385.93 L423.36,386.48 L424.79,387.03 L426.21,387.57 L427.64,388.10 L429.06,388.64 L430.49,389.17 L431.91,389.70 L433.34,390.22 L434.76,390.74 L436.18,391.26 L437.61,391.77 L439.03,392.28 L440.46,392.78 L441.88,393.28 L443.31,393.78 L444.73,394.27 L446.16,394.76 L447.58,395.24 L449.01,395.73 L450.43,396.20 L451.86,396.68 L453.28,397.15 L454.71,397.62 L456.13,398.08 L457.56,398.54 L458.98,399.00 L460.41,399.45 L461.83,399.90 L463.26,400.34 L464.68,400.79 L466.11,401.22 L467.53,401.66 L468.96,402.09 L470.38,402.52 L471.81,402.94 L473.23,403.36 L474.65,403.78 L476.08,404.20 L477.50,404.60 L478.93,405.01 L480.35,405.41 L481.78,405.81 L483.20,406.20 L484.63,406.59 L486.05,406.97 L487.48,407.35 L488.90,407.73 L490.33,408.11 L491.75,408.48 L493.18,408.85 L494.60,409.22 L496.03,409.59 L497.45,409.95 L498.88,410.31 L500.30,410.68 L501.73,411.04 L503.15,411.40 L504.58,411.76 L506.00,412.11 L507.43,412.47 L508.85,412.83 L510.28,413.19 L511.70,413.54 L513.12,413.90 L514.55,414.26 L515.97,414.62 L517.40,414.97 L518.82,415.33 L520.25,415.68 L521.67,416.04 L523.10,416.39 L524.52,416.74 L525.95,417.10 L527.37,417.45 L528.80,417.80 L530.22,418.15 L531.65,418.49 L533.07,418.84 L534.50,419.19 L535.92,419.53 L537.35,419.88 L538.77,420.22 L540.20,420.56 L541.62,420.90 L543.05,421.24 L544.47,421.57 L545.90,421.91 L547.32,422.24 L548.75,422.57 L550.17,422.90 L551.59,423.23 L553.02,423.56 L554.44,423.88 L555.87,424.21 L557.29,424.53 L558.72,424.85 L560.14,425.17 L561.57,425.48 L562.99,425.80 L564.42,426.11 L565.84,426.42 L567.27,426.73 L568.69,427.04 L570.12,427.34 L571.54,427.64 L572.97,427.94 L574.39,428.24 L575.82,428.54 L577.24,428.83 L578.67,429.12 L580.09,429.41 L581.52,429.70 L582.94,429.98 L584.37,430.26 L585.79,430.54 L587.22,430.82 L588.64,431.10 L590.06,431.37 L591.49,431.64 L592.91,431.91 L594.34,432.18 L595.76,432.45 L597.19,432.71 L598.61,432.98 L600.04,433.24 L601.46,433.50 L602.89,433.76 L604.31,434.02 L605.74,434.27 L607.16,434.53 L608.59,434.78 L610.01,435.04 L611.44,435.29 L612.86,435.54 L614.29,435.79 L615.71,436.03 L617.14,436.28 L618.56,436.52 L619.99,436.77 L621.41,437.01 L622.84,437.25 L624.26,437.48 L625.68,437.72 L627.11,437.96 L628.53,438.19 L629.96,438.42 L631.38,438.66 L632.81,438.89 L634.23,439.12 L635.66,439.34 L637.08,439.57 L638.51,439.79 L639.93,440.02 L641.36,440.24 L642.78,440.46 L644.21,440.68 L645.63,440.90 L647.06,441.11 L648.48,441.33 L649.91,441.54 L651.33,441.75 L652.76,441.96 L654.18,442.17 L655.61,442.38 L657.03,442.59 L658.46,442.79 L659.88,443.00 L661.31,443.20 L662.73,443.40 L664.15,443.60 L665.58,443.80 L667.00,444.00 L668.43,444.19 L669.85,444.39 L671.28,444.58 L672.70,444.78 L674.13,444.97 L675.55,445.16 L676.98,445.34 L678.40,445.53 L679.83,445.72 L681.25,445.90 L682.68,446.09 L684.10,446.27 L685.53,446.45 L686.95,446.63 L688.38,446.81 L689.80,446.98 L691.23,447.16 L692.65,447.33 L694.08,447.51 L695.50,447.68 L696.93,447.85 L698.35,448.02 L699.78,448.19 L701.20,448.36" fill="none" stroke="#006400" stroke-width="5.4" stroke-dasharray="4.9,2.8" stroke-linejoin="round"/>
<path d="M132.70,292.30 L134.12,292.30 L135.55,292.31 L136.97,292.32 L138.40,292.34 L139.82,292.36 L141.25,292.39 L142.67,292.42 L144.10,292.46 L145.52,292.50 L146.95,292.55 L148.37,292.60 L149.80,292.66 L151.22,292.72 L152.65,292.79 L154.07,292.86 L155.50,292.94 L156.92,293.02 L158.35,293.11 L159.77,293.20 L161.20,293.30 L162.62,293.41 L164.05,293.52 L165.47,293.63 L166.90,293.75 L168.32,293.88 L169.75,294.01 L171.17,294.14 L172.59,294.28 L174.02,294.43 L175.44,294.58 L176.87,294.74 L178.29,294.90 L179.72,295.07 L181.14,295.24 L182.57,295.42 L183.99,295.60 L185.42,295.79 L186.84,295.99 L188.27,296.19 L189.69,296.39 L191.12,296.60 L192.54,296.82 L193.97,297.04 L195.39,297.27 L196.82,297.50 L198.24,297.75 L199.67,297.99 L201.09,298.25 L202.52,298.51 L203.94,298.77 L205.37,299.04 L206.79,299.32 L208.22,299.60 L209.64,299.89 L211.06,300.18 L212.49,300.48 L213.91,300.78 L215.34,301.09 L216.76,301.41 L218.19,301.73 L219.61,302.05 L221.04,302.38 L222.46,302.72 L223.89,303.06 L225.31,303.40 L226.74,303.75 L228.16,304.10 L229.59,304.45 L231.01,304.81 L232.44,305.18 L233.86,305.54 L235.29,305.91 L236.71,306.28 L238.14,306.66 L239.56,307.04 L240.99,307.42 L242.41,307.80 L243.84,308.19 L245.26,308.57 L246.68,308.96 L248.11,309.35 L249.53,309.75 L250.96,310.15 L252.38,310.55 L253.81,310.95 L255.23,311.36 L256.66,311.77 L258.08,312.19 L259.51,312.61 L260.93,313.03 L262.36,313.45 L263.78,313.88 L265.21,314.31 L266.63,314.74 L268.06,315.17 L269.48,315.61 L270.91,316.05 L272.33,316.49 L273.76,316.94 L275.18,317.39 L276.61,317.84 L278.03,318.29 L279.46,318.75 L280.88,319.21 L282.31,319.67 L283.73,320.13 L285.15,320.59 L286.58,321.06 L288.00,321.53 L289.43,322.00 L290.85,322.47 L292.28,322.95 L293.70,323.43 L295.13,323.90 L296.55,324.38 L297.98,324.87 L299.40,325.35 L300.83,325.84 L302.25,326.32 L303.68,326.81 L305.10,327.30 L306.53,327.79 L307.95,328.29 L309.38,328.78 L310.80,329.28 L312.23,329.78 L313.65,330.27 L315.08,330.77 L316.50,331.27 L317.93,331.78 L319.35,332.28 L320.78,332.78 L322.20,333.29 L323.62,333.79 L325.05,334.30 L326.47,334.81 L327.90,335.31 L329.32,335.82 L330.75,336.33 L332.17,336.84 L333.60,337.35 L335.02,337.86 L336.45,338.38 L337.87,338.89 L339.30,339.40 L340.72,339.91 L342.15,340.43 L343.57,340.94 L345.00,341.45 L346.42,341.97 L347.85,342.48 L349.27,342.99 L350.70,343.51 L352.12,344.02 L353.55,344.54 L354.97,345.05 L356.40,345.56 L357.82,346.08 L359.25,346.59 L360.67,347.10 L362.09,347.62 L363.52,348.13 L364.94,348.64 L366.37,349.16 L367.79,349.67 L369.22,350.18 L370.64,350.70 L372.07,351.21 L373.49,351.73 L374.92,352.24 L376.34,352.75 L377.77,353.27 L379.19,353.78 L380.62,354.29 L382.04,354.80 L383.47,355.31 L384.89,355.83 L386.32,356.34 L387.74,356.85 L389.17,357.35 L390.59,357.86 L392.02,358.37 L393.44,358.87 L394.87,359.38 L396.29,359.88 L397.72,360.39 L399.14,360.89 L400.56,361.39 L401.99,361.89 L403.41,362.39 L404.84,362.88 L406.26,363.38 L407.69,363.87 L409.11,364.36 L410.54,364.85 L411.96,365.34 L413.39,365.83 L414.81,366.31 L416.24,366.80 L417.66,367.28 L419.09,367.76 L420.51,368.24 L421.94,368.71 L423.36,369.19 L424.79,369.66 L426.21,370.13 L427.64,370.60 L429.06,371.06 L430.49,371.53 L431.91,371.99 L433.34,372.45 L434.76,372.90 L436.18,373.36 L437.61,373.81 L439.03,374.25 L440.46,374.70 L441.88,375.14 L443.31,375.58 L444.73,376.01 L446.16,376.45 L447.58,376.87 L449.01,377.30 L450.43,377.72 L451.86,378.14 L453.28,378.56 L454.71,378.97 L456.13,379.39 L457.56,379.80 L458.98,380.20 L460.41,380.61 L461.83,381.02 L463.26,381.42 L464.68,381.82 L466.11,382.22 L467.53,382.62 L468.96,383.01 L470.38,383.41 L471.81,383.80 L473.23,384.20 L474.65,384.59 L476.08,384.98 L477.50,385.37 L478.93,385.76 L480.35,386.14 L481.78,386.53 L483.20,386.91 L484.63,387.29 L486.05,387.67 L487.48,388.05 L488.90,388.42 L490.33,388.80 L491.75,389.17 L493.18,389.54 L494.60,389.91 L496.03,390.28 L497.45,390.65 L498.88,391.01 L500.30,391.38 L501.73,391.74 L503.15,392.10 L504.58,392.46 L506.00,392.82 L507.43,393.18 L508.85,393.54 L510.28,393.89 L511.70,394.25 L513.12,394.60 L514.55,394.95 L515.97,395.31 L517.40,395.66 L518.82,396.01 L520.25,396.36 L521.67,396.71 L523.10,397.06 L524.52,397.41 L525.95,397.76 L527.37,398.11 L528.80,398.46 L530.22,398.80 L531.65,399.15 L533.07,399.49 L534.50,399.83 L535.92,400.18 L537.35,400.52 L538.77,400.86 L540.20,401.20 L541.62,401.53 L543.05,401.87 L544.47,402.21 L545.90,402.54 L547.32,402.87 L548.75,403.21 L550.17,403.54 L551.59,403.87 L553.02,404.19 L554.44,404.52 L555.87,404.85 L557.29,405.17 L558.72,405.49 L560.14,405.81 L561.57,406.13 L562.99,406.45 L564.42,406.77 L565.84,407.08 L567.27,407.40 L568.69,407.71 L570.12,408.02 L571.54,408.33 L572.97,408.63 L574.39,408.94 L575.82,409.24 L577.24,409.54 L578.67,409.84 L580.09,410.14 L581.52,410.44 L582.94,410.73 L584.37,411.03 L585.79,411.32 L587.22,411.60 L588.64,411.89 L590.06,412.18 L591.49,412.46 L592.91,412.74 L594.34,413.03 L595.76,413.31 L597.19,413.59 L598.61,413.87 L600.04,414.14 L601.46,414.42 L602.89,414.69 L604.31,414.97 L605.74,415.24 L607.16,415.51 L608.59,415.78 L610.01,416.05 L611.44,416.32 L612.86,416.59 L614.29,416.86 L615.71,417.12 L617.14,417.39 L618.56,417.65 L619.99,417.91 L621.41,418.17 L622.84,418.43 L624.26,418.69 L625.68,418.95 L627.11,419.20 L628.53,419.46 L629.96,419.71 L631.38,419.96 L632.81,420.21 L634.23,420.47 L635.66,420.71 L637.08,420.96 L638.51,421.21 L639.93,421.45 L641.36,421.70 L642.78,421.94 L644.21,422.18 L645.63,422.43 L647.06,422.67 L648.48,422.90 L649.91,423.14 L651.33,423.38 L652.76,423.61 L654.18,423.85 L655.61,424.08 L657.03,424.31 L658.46,424.54 L659.88,424.77 L661.31,425.00 L662.73,425.23 L664.15,425.45 L665.58,425.68 L667.00,425.90 L668.43,426.12 L669.85,426.34 L671.28,426.56 L672.70,426.78 L674.13,427.00 L675.55,427.22 L676.98,427.43 L678.40,427.65 L679.83,427.86 L681.25,428.07 L682.68,428.28 L684.10,428.49 L685.53,428.70 L686.95,428.91 L688.38,429.11 L689.80,429.32 L691.23,429.52 L692.65,429.72 L694.08,429.92 L695.50,430.12 L696.93,430.32 L698.35,430.52 L699.78,430.72 L701.20,430.91" fill="none" stroke="#ff0000" stroke-width="5.4" stroke-dasharray="1.5,1.7" stroke-linejoin="round"/>
</g>
<rect x="132.7" y="63.4" width="570.60" height="198.90" fill="none" stroke="#000" stroke-width="2.6"/>
<rect x="132.7" y="292.3" width="570.60" height="184.80" fill="none" stroke="#000" stroke-width="2.6"/>
<line x1="132.70" y1="162.55" x2="140.70" y2="162.55" stroke="#000" stroke-width="2.4"/>
<line x1="695.30" y1="162.55" x2="703.30" y2="162.55" stroke="#000" stroke-width="2.4"/>
<line x1="132.70" y1="384.40" x2="140.70" y2="384.40" stroke="#000" stroke-width="2.4"/>
<line x1="695.30" y1="384.40" x2="703.30" y2="384.40" stroke="#000" stroke-width="2.4"/>
<line x1="246.82" y1="477.10" x2="246.82" y2="469.10" stroke="#000" stroke-width="2.4"/>
<line x1="246.82" y1="292.30" x2="246.82" y2="300.30" stroke="#000" stroke-width="2.4"/>
<line x1="360.94" y1="477.10" x2="360.94" y2="469.10" stroke="#000" stroke-width="2.4"/>
<line x1="360.94" y1="292.30" x2="360.94" y2="300.30" stroke="#000" stroke-width="2.4"/>
<line x1="475.06" y1="477.10" x2="475.06" y2="469.10" stroke="#000" stroke-width="2.4"/>
<line x1="475.06" y1="292.30" x2="475.06" y2="300.30" stroke="#000" stroke-width="2.4"/>
<line x1="589.18" y1="477.10" x2="589.18" y2="469.10" stroke="#000" stroke-width="2.4"/>
<line x1="589.18" y1="292.30" x2="589.18" y2="300.30" stroke="#000" stroke-width="2.4"/>
<text x="117.00" y="72.00" text-anchor="end" >2</text>
<text x="117.00" y="171.45" text-anchor="end" >1.5</text>
<text x="117.00" y="270.90" text-anchor="end" >1</text>
<text x="117.00" y="300.90" text-anchor="end" >2</text>
<text x="117.00" y="393.30" text-anchor="end" >1.5</text>
<text x="117.00" y="485.70" text-anchor="end" >1</text>
<text x="135.90" y="512.20" text-anchor="middle" >0</text>
<text x="250.02" y="512.20" text-anchor="middle" >1</text>
<text x="364.14" y="512.20" text-anchor="middle" >2</text>
<text x="478.26" y="512.20" text-anchor="middle" >3</text>
<text x="592.38" y="512.20" text-anchor="middle" >4</text>
<text x="706.50" y="512.20" text-anchor="middle" >5</text>
<rect x="103.30" y="267.25" width="5.23" height="4.45" fill="#fff"/>
<rect x="112.25" y="267.25" width="4.89" height="4.45" fill="#fff"/>
<rect x="81.62" y="167.80" width="5.23" height="4.45" fill="#fff"/>
<rect x="90.57" y="167.80" width="4.89" height="4.45" fill="#fff"/>
<rect x="103.30" y="482.05" width="5.23" height="4.45" fill="#fff"/>
<rect x="112.25" y="482.05" width="4.89" height="4.45" fill="#fff"/>
<rect x="81.62" y="389.65" width="5.23" height="4.45" fill="#fff"/>
<rect x="90.57" y="389.65" width="4.89" height="4.45" fill="#fff"/>
<rect x="243.55" y="508.55" width="5.23" height="4.45" fill="#fff"/>
<rect x="252.50" y="508.55" width="4.89" height="4.45" fill="#fff"/>
<text x="417.7" y="550.6" text-anchor="middle" style="font-family:'Liberation Serif',serif;font-weight:normal;font-size:27.4px;stroke:#000;stroke-width:0.55px">τ</text>
<text transform="translate(37.3,162.9) rotate(-90)" text-anchor="middle">g<tspan dy="-13" font-size="20.8">(2)</tspan><tspan dy="13"> (</tspan><tspan textLength="13.6" lengthAdjust="spacingAndGlyphs" style="font-family:'Liberation Serif',serif;font-weight:normal;font-size:28px;stroke:#000;stroke-width:0.3px">τ</tspan>)</text>
<text transform="translate(37.3,384.9) rotate(-90)" text-anchor="middle">g<tspan dy="-13" font-size="20.8">(2)</tspan><tspan dy="13"> (</tspan><tspan textLength="13.6" lengthAdjust="spacingAndGlyphs" style="font-family:'Liberation Serif',serif;font-weight:normal;font-size:28px;stroke:#000;stroke-width:0.3px">τ</tspan>)</text>
</svg>
</body></html>
